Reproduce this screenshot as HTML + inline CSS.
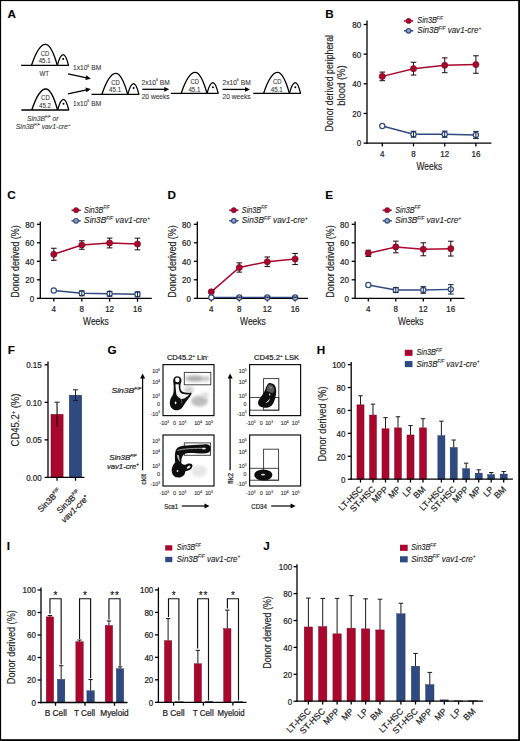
<!DOCTYPE html>
<html><head><meta charset="utf-8"><style>
html,body{margin:0;padding:0;background:#fff;}
body{width:520px;height:741px;overflow:hidden;}
svg{display:block;font-family:"Liberation Sans",sans-serif;}
</style></head><body>
<svg width="520" height="741" viewBox="0 0 520 741" font-family="Liberation Sans, sans-serif">
<rect x="0" y="0" width="520" height="741" fill="#fff"/>
<defs><filter id="bl1" x="-50%" y="-50%" width="200%" height="200%"><feGaussianBlur stdDeviation="1.4"/></filter><filter id="bl2" x="-50%" y="-50%" width="200%" height="200%"><feGaussianBlur stdDeviation="0.45"/></filter></defs>
<text x="7.6" y="18" font-size="11.7" font-weight="bold" fill="#000" stroke="#000" stroke-width="0.1" >A</text>
<line x1="21.1" y1="65.3" x2="68.8" y2="65.3" stroke="#000" stroke-width="1.3" />
<path d="M31.5,65.3 Q38.5,44.3 45.5,44.3 Q51.4,44.3 57.3,65.3" stroke="#000" stroke-width="1.35" fill="none"/>
<path d="M57.3,65.3 Q60.25,54.6 63.2,54.6 Q65.85,54.6 68.5,65.3" stroke="#000" stroke-width="1.3" fill="none"/>
<circle cx="63.2" cy="59.1" r="1.0" fill="#000"/>
<text x="45.1" y="55.7" font-size="6.9" text-anchor="middle" fill="#333" stroke="#333" stroke-width="0.08" textLength="8.6" lengthAdjust="spacingAndGlyphs" >CD</text>
<text x="44.7" y="63.4" font-size="6.9" text-anchor="middle" fill="#333" stroke="#333" stroke-width="0.08" textLength="12" lengthAdjust="spacingAndGlyphs" >45.1</text>
<text x="44.3" y="75.5" font-size="6.9" text-anchor="middle" fill="#333" stroke="#333" stroke-width="0.08" textLength="9.6" lengthAdjust="spacingAndGlyphs" >WT</text>
<line x1="21.4" y1="110" x2="69.1" y2="110" stroke="#000" stroke-width="1.3" />
<path d="M31.8,110 Q38.8,89 45.8,89 Q51.7,89 57.6,110" stroke="#000" stroke-width="1.35" fill="none"/>
<path d="M57.6,110 Q60.55,99.3 63.5,99.3 Q66.15,99.3 68.8,110" stroke="#000" stroke-width="1.3" fill="none"/>
<circle cx="63.5" cy="103.8" r="1.0" fill="#000"/>
<text x="45.4" y="100.4" font-size="6.9" text-anchor="middle" fill="#333" stroke="#333" stroke-width="0.08" textLength="8.6" lengthAdjust="spacingAndGlyphs" >CD</text>
<text x="45" y="108.1" font-size="6.9" text-anchor="middle" fill="#333" stroke="#333" stroke-width="0.08" textLength="12" lengthAdjust="spacingAndGlyphs" >45.2</text>
<text x="27" y="120.8" font-size="6.9" font-style="italic" fill="#333" stroke="#333" stroke-width="0.08" textLength="31.5" lengthAdjust="spacingAndGlyphs" >Sin3B<tspan dy="-2.76" font-size="3.8">F/F</tspan><tspan dy="2.76" font-size="6.9"> or</tspan></text>
<text x="15.8" y="128.9" font-size="6.9" font-style="italic" fill="#333" stroke="#333" stroke-width="0.08" textLength="54.5" lengthAdjust="spacingAndGlyphs" >Sin3B<tspan dy="-2.76" font-size="3.8">F/F</tspan><tspan dy="2.76" font-size="6.9"> vav1-cre</tspan><tspan dy="-2.76" font-size="4.14">+</tspan></text>
<line x1="91.5" y1="94.3" x2="139.2" y2="94.3" stroke="#000" stroke-width="1.3" />
<path d="M101.9,94.3 Q108.9,73.3 115.9,73.3 Q121.8,73.3 127.7,94.3" stroke="#000" stroke-width="1.35" fill="none"/>
<path d="M127.7,94.3 Q130.65,83.6 133.6,83.6 Q136.25,83.6 138.9,94.3" stroke="#000" stroke-width="1.3" fill="none"/>
<circle cx="133.6" cy="88.1" r="1.0" fill="#000"/>
<text x="115.5" y="84.7" font-size="6.9" text-anchor="middle" fill="#333" stroke="#333" stroke-width="0.08" textLength="8.6" lengthAdjust="spacingAndGlyphs" >CD</text>
<text x="115.1" y="92.4" font-size="6.9" text-anchor="middle" fill="#333" stroke="#333" stroke-width="0.08" textLength="12" lengthAdjust="spacingAndGlyphs" >45.1</text>
<line x1="170.8" y1="93.4" x2="218.5" y2="93.4" stroke="#000" stroke-width="1.3" />
<path d="M181.2,93.4 Q188.2,72.4 195.2,72.4 Q201.1,72.4 207,93.4" stroke="#000" stroke-width="1.35" fill="none"/>
<path d="M207,93.4 Q209.95,82.7 212.9,82.7 Q215.55,82.7 218.2,93.4" stroke="#000" stroke-width="1.3" fill="none"/>
<circle cx="212.9" cy="87.2" r="1.0" fill="#000"/>
<text x="194.8" y="83.8" font-size="6.9" text-anchor="middle" fill="#333" stroke="#333" stroke-width="0.08" textLength="8.6" lengthAdjust="spacingAndGlyphs" >CD</text>
<text x="194.4" y="91.5" font-size="6.9" text-anchor="middle" fill="#333" stroke="#333" stroke-width="0.08" textLength="12" lengthAdjust="spacingAndGlyphs" >45.1</text>
<line x1="253.2" y1="93.4" x2="300.9" y2="93.4" stroke="#000" stroke-width="1.3" />
<path d="M263.6,93.4 Q270.6,72.4 277.6,72.4 Q283.5,72.4 289.4,93.4" stroke="#000" stroke-width="1.35" fill="none"/>
<path d="M289.4,93.4 Q292.35,82.7 295.3,82.7 Q297.95,82.7 300.6,93.4" stroke="#000" stroke-width="1.3" fill="none"/>
<circle cx="295.3" cy="87.2" r="1.0" fill="#000"/>
<text x="277.2" y="83.8" font-size="6.9" text-anchor="middle" fill="#333" stroke="#333" stroke-width="0.08" textLength="8.6" lengthAdjust="spacingAndGlyphs" >CD</text>
<text x="276.8" y="91.5" font-size="6.9" text-anchor="middle" fill="#333" stroke="#333" stroke-width="0.08" textLength="12" lengthAdjust="spacingAndGlyphs" >45.1</text>
<text x="73" y="70.3" font-size="6.9" fill="#333" stroke="#333" stroke-width="0.08" textLength="28.2" lengthAdjust="spacingAndGlyphs" >1x10<tspan dy="-3.8" font-size="3.8">6</tspan><tspan dy="3.8" font-size="6.9"> BM</tspan></text>
<text x="73" y="106.2" font-size="6.9" fill="#333" stroke="#333" stroke-width="0.08" textLength="28.2" lengthAdjust="spacingAndGlyphs" >1x10<tspan dy="-3.8" font-size="3.8">6</tspan><tspan dy="3.8" font-size="6.9"> BM</tspan></text>
<line x1="68" y1="73.8" x2="86.69" y2="77.82" stroke="#000" stroke-width="1.3" />
<polygon points="90.8,78.7 85.41,80 86.42,75.3" fill="#000"/>
<line x1="68" y1="93.8" x2="86.69" y2="89.78" stroke="#000" stroke-width="1.3" />
<polygon points="90.8,88.9 86.42,92.3 85.41,87.6" fill="#000"/>
<text x="141.6" y="85.1" font-size="6.9" fill="#333" stroke="#333" stroke-width="0.08" textLength="28.2" lengthAdjust="spacingAndGlyphs" >2x10<tspan dy="-3.8" font-size="3.8">6</tspan><tspan dy="3.8" font-size="6.9"> BM</tspan></text>
<line x1="142.3" y1="89.3" x2="165.1" y2="89.3" stroke="#000" stroke-width="1.3" />
<polygon points="169.3,89.3 164.3,91.7 164.3,86.9" fill="#000"/>
<text x="141.7" y="99" font-size="6.9" fill="#333" stroke="#333" stroke-width="0.08" textLength="28" lengthAdjust="spacingAndGlyphs" >20 weeks</text>
<text x="222.5" y="85.1" font-size="6.9" fill="#333" stroke="#333" stroke-width="0.08" textLength="28.2" lengthAdjust="spacingAndGlyphs" >2x10<tspan dy="-3.8" font-size="3.8">6</tspan><tspan dy="3.8" font-size="6.9"> BM</tspan></text>
<line x1="222.5" y1="89.4" x2="245.8" y2="89.4" stroke="#000" stroke-width="1.3" />
<polygon points="250,89.4 245,91.8 245,87" fill="#000"/>
<text x="222.6" y="99.2" font-size="6.9" fill="#333" stroke="#333" stroke-width="0.08" textLength="28" lengthAdjust="spacingAndGlyphs" >20 weeks</text>
<text x="325.2" y="17.8" font-size="11.7" font-weight="bold" fill="#000" stroke="#000" stroke-width="0.1" >B</text>
<line x1="367" y1="20.6" x2="367" y2="143.75" stroke="#000" stroke-width="1.3" />
<line x1="363.6" y1="143.1" x2="367" y2="143.1" stroke="#000" stroke-width="1.3" />
<text x="361.2" y="146.46" font-size="8.5" text-anchor="end" fill="#1e1e1e" stroke="#1e1e1e" stroke-width="0.22" textLength="4.45" lengthAdjust="spacingAndGlyphs" >0</text>
<line x1="363.6" y1="113.45" x2="367" y2="113.45" stroke="#000" stroke-width="1.3" />
<text x="361.2" y="116.81" font-size="8.5" text-anchor="end" fill="#1e1e1e" stroke="#1e1e1e" stroke-width="0.22" textLength="8.9" lengthAdjust="spacingAndGlyphs" >20</text>
<line x1="363.6" y1="83.8" x2="367" y2="83.8" stroke="#000" stroke-width="1.3" />
<text x="361.2" y="87.16" font-size="8.5" text-anchor="end" fill="#1e1e1e" stroke="#1e1e1e" stroke-width="0.22" textLength="8.9" lengthAdjust="spacingAndGlyphs" >40</text>
<line x1="363.6" y1="54.15" x2="367" y2="54.15" stroke="#000" stroke-width="1.3" />
<text x="361.2" y="57.51" font-size="8.5" text-anchor="end" fill="#1e1e1e" stroke="#1e1e1e" stroke-width="0.22" textLength="8.9" lengthAdjust="spacingAndGlyphs" >60</text>
<line x1="363.6" y1="24.5" x2="367" y2="24.5" stroke="#000" stroke-width="1.3" />
<text x="361.2" y="27.86" font-size="8.5" text-anchor="end" fill="#1e1e1e" stroke="#1e1e1e" stroke-width="0.22" textLength="8.9" lengthAdjust="spacingAndGlyphs" >80</text>
<line x1="366.35" y1="143.1" x2="491.4" y2="143.1" stroke="#000" stroke-width="1.3" />
<line x1="382.3" y1="143.1" x2="382.3" y2="146.4" stroke="#000" stroke-width="1.3" />
<line x1="413.5" y1="143.1" x2="413.5" y2="146.4" stroke="#000" stroke-width="1.3" />
<line x1="444.7" y1="143.1" x2="444.7" y2="146.4" stroke="#000" stroke-width="1.3" />
<line x1="475.9" y1="143.1" x2="475.9" y2="146.4" stroke="#000" stroke-width="1.3" />
<text x="382.3" y="156.7" font-size="8.5" text-anchor="middle" fill="#1e1e1e" stroke="#1e1e1e" stroke-width="0.22" textLength="4.45" lengthAdjust="spacingAndGlyphs" >4</text>
<text x="413.5" y="156.7" font-size="8.5" text-anchor="middle" fill="#1e1e1e" stroke="#1e1e1e" stroke-width="0.22" textLength="4.45" lengthAdjust="spacingAndGlyphs" >8</text>
<text x="444.7" y="156.7" font-size="8.5" text-anchor="middle" fill="#1e1e1e" stroke="#1e1e1e" stroke-width="0.22" textLength="8.9" lengthAdjust="spacingAndGlyphs" >12</text>
<text x="475.9" y="156.7" font-size="8.5" text-anchor="middle" fill="#1e1e1e" stroke="#1e1e1e" stroke-width="0.22" textLength="8.9" lengthAdjust="spacingAndGlyphs" >16</text>
<polyline points="382.3,76.39 413.5,68.68 444.7,65.27 475.9,64.53" fill="none" stroke="#a9072e" stroke-width="1.5"/>
<line x1="382.3" y1="72.09" x2="382.3" y2="80.69" stroke="#2a1016" stroke-width="1.05" />
<line x1="379.5" y1="72.09" x2="385.1" y2="72.09" stroke="#2a1016" stroke-width="1.05" />
<line x1="379.5" y1="80.69" x2="385.1" y2="80.69" stroke="#2a1016" stroke-width="1.05" />
<circle cx="382.3" cy="76.39" r="3.1" fill="#a9072e" stroke="#6e0a1e" stroke-width="0.6"/>
<line x1="413.5" y1="62.3" x2="413.5" y2="75.05" stroke="#2a1016" stroke-width="1.05" />
<line x1="410.7" y1="62.3" x2="416.3" y2="62.3" stroke="#2a1016" stroke-width="1.05" />
<line x1="410.7" y1="75.05" x2="416.3" y2="75.05" stroke="#2a1016" stroke-width="1.05" />
<circle cx="413.5" cy="68.68" r="3.1" fill="#a9072e" stroke="#6e0a1e" stroke-width="0.6"/>
<line x1="444.7" y1="57.86" x2="444.7" y2="72.68" stroke="#2a1016" stroke-width="1.05" />
<line x1="441.9" y1="57.86" x2="447.5" y2="57.86" stroke="#2a1016" stroke-width="1.05" />
<line x1="441.9" y1="72.68" x2="447.5" y2="72.68" stroke="#2a1016" stroke-width="1.05" />
<circle cx="444.7" cy="65.27" r="3.1" fill="#a9072e" stroke="#6e0a1e" stroke-width="0.6"/>
<line x1="475.9" y1="55.78" x2="475.9" y2="73.27" stroke="#2a1016" stroke-width="1.05" />
<line x1="473.1" y1="55.78" x2="478.7" y2="55.78" stroke="#2a1016" stroke-width="1.05" />
<line x1="473.1" y1="73.27" x2="478.7" y2="73.27" stroke="#2a1016" stroke-width="1.05" />
<circle cx="475.9" cy="64.53" r="3.1" fill="#a9072e" stroke="#6e0a1e" stroke-width="0.6"/>
<polyline points="382.3,126.05 413.5,134.2 444.7,134.2 475.9,134.95" fill="none" stroke="#2f4a80" stroke-width="1.4"/>
<circle cx="382.3" cy="126.05" r="2.6" fill="#fff" stroke="#2f4a80" stroke-width="1.2"/>
<circle cx="413.5" cy="134.2" r="2.6" fill="#fff" stroke="#2f4a80" stroke-width="1.2"/>
<line x1="413.5" y1="131.24" x2="413.5" y2="137.17" stroke="#1c2e52" stroke-width="1.05" />
<line x1="410.7" y1="131.24" x2="416.3" y2="131.24" stroke="#1c2e52" stroke-width="1.05" />
<line x1="410.7" y1="137.17" x2="416.3" y2="137.17" stroke="#1c2e52" stroke-width="1.05" />
<circle cx="444.7" cy="134.2" r="2.6" fill="#fff" stroke="#2f4a80" stroke-width="1.2"/>
<line x1="444.7" y1="131.09" x2="444.7" y2="137.32" stroke="#1c2e52" stroke-width="1.05" />
<line x1="441.9" y1="131.09" x2="447.5" y2="131.09" stroke="#1c2e52" stroke-width="1.05" />
<line x1="441.9" y1="137.32" x2="447.5" y2="137.32" stroke="#1c2e52" stroke-width="1.05" />
<circle cx="475.9" cy="134.95" r="2.6" fill="#fff" stroke="#2f4a80" stroke-width="1.2"/>
<line x1="475.9" y1="131.39" x2="475.9" y2="138.5" stroke="#1c2e52" stroke-width="1.05" />
<line x1="473.1" y1="131.39" x2="478.7" y2="131.39" stroke="#1c2e52" stroke-width="1.05" />
<line x1="473.1" y1="138.5" x2="478.7" y2="138.5" stroke="#1c2e52" stroke-width="1.05" />
<text x="429.3" y="170.4" font-size="10.2" text-anchor="middle" fill="#1e1e1e" stroke="#1e1e1e" stroke-width="0.16" textLength="25.6" lengthAdjust="spacingAndGlyphs" >Weeks</text>
<text transform="translate(332.6,83.2) rotate(-90)" x="0" y="0" font-size="10.2" text-anchor="middle" fill="#1e1e1e" stroke="#1e1e1e" stroke-width="0.16" textLength="96.5" lengthAdjust="spacingAndGlyphs">Donor derived peripheral</text>
<text transform="translate(344.6,85.6) rotate(-90)" x="0" y="0" font-size="10.2" text-anchor="middle" fill="#1e1e1e" stroke="#1e1e1e" stroke-width="0.16" textLength="40.5" lengthAdjust="spacingAndGlyphs">blood (%)</text>
<line x1="404" y1="20.9" x2="413.2" y2="20.9" stroke="#a9072e" stroke-width="1.5" />
<circle cx="408.6" cy="20.9" r="2.6" fill="#a9072e" stroke="#6e0a1e" stroke-width="0.5"/>
<line x1="404" y1="30.8" x2="413.2" y2="30.8" stroke="#2f4a80" stroke-width="1.5" />
<circle cx="408.6" cy="30.8" r="2.3" fill="#8aa0c0" stroke="#2f4a80" stroke-width="1.1"/>
<text x="417.3" y="23.3" font-size="8.6" font-style="italic" fill="#1e1e1e" stroke="#1e1e1e" stroke-width="0.12" textLength="25.6" lengthAdjust="spacingAndGlyphs" >Sin3B<tspan dy="-3.44" font-size="4.73">F/F</tspan></text>
<text x="417.3" y="33.2" font-size="8.6" font-style="italic" fill="#1e1e1e" stroke="#1e1e1e" stroke-width="0.12" textLength="64" lengthAdjust="spacingAndGlyphs" >Sin3B<tspan dy="-3.44" font-size="4.73">F/F</tspan><tspan dy="3.44" font-size="8.6"> vav1-cre</tspan><tspan dy="-3.44" font-size="5.16">+</tspan></text>
<text x="7.3" y="198.5" font-size="11.7" font-weight="bold" fill="#000" stroke="#000" stroke-width="0.1" >C</text>
<line x1="40.3" y1="221.4" x2="40.3" y2="298.95" stroke="#000" stroke-width="1.3" />
<line x1="36.9" y1="298.3" x2="40.3" y2="298.3" stroke="#000" stroke-width="1.3" />
<text x="34.2" y="301.66" font-size="8.5" text-anchor="end" fill="#1e1e1e" stroke="#1e1e1e" stroke-width="0.22" textLength="4.45" lengthAdjust="spacingAndGlyphs" >0</text>
<line x1="36.9" y1="279.8" x2="40.3" y2="279.8" stroke="#000" stroke-width="1.3" />
<text x="34.2" y="283.16" font-size="8.5" text-anchor="end" fill="#1e1e1e" stroke="#1e1e1e" stroke-width="0.22" textLength="8.9" lengthAdjust="spacingAndGlyphs" >20</text>
<line x1="36.9" y1="261.3" x2="40.3" y2="261.3" stroke="#000" stroke-width="1.3" />
<text x="34.2" y="264.66" font-size="8.5" text-anchor="end" fill="#1e1e1e" stroke="#1e1e1e" stroke-width="0.22" textLength="8.9" lengthAdjust="spacingAndGlyphs" >40</text>
<line x1="36.9" y1="242.8" x2="40.3" y2="242.8" stroke="#000" stroke-width="1.3" />
<text x="34.2" y="246.16" font-size="8.5" text-anchor="end" fill="#1e1e1e" stroke="#1e1e1e" stroke-width="0.22" textLength="8.9" lengthAdjust="spacingAndGlyphs" >60</text>
<line x1="36.9" y1="224.3" x2="40.3" y2="224.3" stroke="#000" stroke-width="1.3" />
<text x="34.2" y="227.66" font-size="8.5" text-anchor="end" fill="#1e1e1e" stroke="#1e1e1e" stroke-width="0.22" textLength="8.9" lengthAdjust="spacingAndGlyphs" >80</text>
<line x1="39.65" y1="298.3" x2="151.8" y2="298.3" stroke="#000" stroke-width="1.3" />
<line x1="53.8" y1="298.3" x2="53.8" y2="301.6" stroke="#000" stroke-width="1.3" />
<line x1="81.8" y1="298.3" x2="81.8" y2="301.6" stroke="#000" stroke-width="1.3" />
<line x1="109.6" y1="298.3" x2="109.6" y2="301.6" stroke="#000" stroke-width="1.3" />
<line x1="137.5" y1="298.3" x2="137.5" y2="301.6" stroke="#000" stroke-width="1.3" />
<text x="53.8" y="312.4" font-size="8.5" text-anchor="middle" fill="#1e1e1e" stroke="#1e1e1e" stroke-width="0.22" textLength="4.45" lengthAdjust="spacingAndGlyphs" >4</text>
<text x="81.8" y="312.4" font-size="8.5" text-anchor="middle" fill="#1e1e1e" stroke="#1e1e1e" stroke-width="0.22" textLength="4.45" lengthAdjust="spacingAndGlyphs" >8</text>
<text x="109.6" y="312.4" font-size="8.5" text-anchor="middle" fill="#1e1e1e" stroke="#1e1e1e" stroke-width="0.22" textLength="8.9" lengthAdjust="spacingAndGlyphs" >12</text>
<text x="137.5" y="312.4" font-size="8.5" text-anchor="middle" fill="#1e1e1e" stroke="#1e1e1e" stroke-width="0.22" textLength="8.9" lengthAdjust="spacingAndGlyphs" >16</text>
<polyline points="53.8,254.27 81.8,245.02 109.6,242.99 137.5,244" fill="none" stroke="#a9072e" stroke-width="1.5"/>
<line x1="53.8" y1="248.26" x2="53.8" y2="260.28" stroke="#2a1016" stroke-width="1.05" />
<line x1="51" y1="248.26" x2="56.6" y2="248.26" stroke="#2a1016" stroke-width="1.05" />
<line x1="51" y1="260.28" x2="56.6" y2="260.28" stroke="#2a1016" stroke-width="1.05" />
<circle cx="53.8" cy="254.27" r="3.1" fill="#a9072e" stroke="#6e0a1e" stroke-width="0.6"/>
<line x1="81.8" y1="240.77" x2="81.8" y2="249.28" stroke="#2a1016" stroke-width="1.05" />
<line x1="79" y1="240.77" x2="84.6" y2="240.77" stroke="#2a1016" stroke-width="1.05" />
<line x1="79" y1="249.28" x2="84.6" y2="249.28" stroke="#2a1016" stroke-width="1.05" />
<circle cx="81.8" cy="245.02" r="3.1" fill="#a9072e" stroke="#6e0a1e" stroke-width="0.6"/>
<line x1="109.6" y1="238.08" x2="109.6" y2="247.89" stroke="#2a1016" stroke-width="1.05" />
<line x1="106.8" y1="238.08" x2="112.4" y2="238.08" stroke="#2a1016" stroke-width="1.05" />
<line x1="106.8" y1="247.89" x2="112.4" y2="247.89" stroke="#2a1016" stroke-width="1.05" />
<circle cx="109.6" cy="242.99" r="3.1" fill="#a9072e" stroke="#6e0a1e" stroke-width="0.6"/>
<line x1="137.5" y1="238.18" x2="137.5" y2="249.83" stroke="#2a1016" stroke-width="1.05" />
<line x1="134.7" y1="238.18" x2="140.3" y2="238.18" stroke="#2a1016" stroke-width="1.05" />
<line x1="134.7" y1="249.83" x2="140.3" y2="249.83" stroke="#2a1016" stroke-width="1.05" />
<circle cx="137.5" cy="244" r="3.1" fill="#a9072e" stroke="#6e0a1e" stroke-width="0.6"/>
<polyline points="53.8,290.53 81.8,293.31 109.6,293.77 137.5,294.32" fill="none" stroke="#2f4a80" stroke-width="1.4"/>
<circle cx="53.8" cy="290.53" r="2.6" fill="#fff" stroke="#2f4a80" stroke-width="1.2"/>
<circle cx="81.8" cy="293.31" r="2.6" fill="#fff" stroke="#2f4a80" stroke-width="1.2"/>
<line x1="81.8" y1="290.9" x2="81.8" y2="295.71" stroke="#1c2e52" stroke-width="1.05" />
<line x1="79" y1="290.9" x2="84.6" y2="290.9" stroke="#1c2e52" stroke-width="1.05" />
<line x1="79" y1="295.71" x2="84.6" y2="295.71" stroke="#1c2e52" stroke-width="1.05" />
<circle cx="109.6" cy="293.77" r="2.6" fill="#fff" stroke="#2f4a80" stroke-width="1.2"/>
<line x1="109.6" y1="291.36" x2="109.6" y2="296.17" stroke="#1c2e52" stroke-width="1.05" />
<line x1="106.8" y1="291.36" x2="112.4" y2="291.36" stroke="#1c2e52" stroke-width="1.05" />
<line x1="106.8" y1="296.17" x2="112.4" y2="296.17" stroke="#1c2e52" stroke-width="1.05" />
<circle cx="137.5" cy="294.32" r="2.6" fill="#fff" stroke="#2f4a80" stroke-width="1.2"/>
<line x1="137.5" y1="291.92" x2="137.5" y2="296.73" stroke="#1c2e52" stroke-width="1.05" />
<line x1="134.7" y1="291.92" x2="140.3" y2="291.92" stroke="#1c2e52" stroke-width="1.05" />
<line x1="134.7" y1="296.73" x2="140.3" y2="296.73" stroke="#1c2e52" stroke-width="1.05" />
<text x="95.9" y="324.9" font-size="10.2" text-anchor="middle" fill="#1e1e1e" stroke="#1e1e1e" stroke-width="0.16" textLength="25.6" lengthAdjust="spacingAndGlyphs" >Weeks</text>
<text transform="translate(19.4,261.5) rotate(-90)" x="0" y="0" font-size="10.2" text-anchor="middle" fill="#1e1e1e" stroke="#1e1e1e" stroke-width="0.16" textLength="72.4" lengthAdjust="spacingAndGlyphs">Donor derived (%)</text>
<line x1="71.5" y1="210.2" x2="80.7" y2="210.2" stroke="#a9072e" stroke-width="1.5" />
<circle cx="76.1" cy="210.2" r="2.6" fill="#a9072e" stroke="#6e0a1e" stroke-width="0.5"/>
<line x1="71.5" y1="220.8" x2="80.7" y2="220.8" stroke="#2f4a80" stroke-width="1.5" />
<circle cx="76.1" cy="220.8" r="2.3" fill="#8aa0c0" stroke="#2f4a80" stroke-width="1.1"/>
<text x="84.1" y="212.6" font-size="8.6" font-style="italic" fill="#1e1e1e" stroke="#1e1e1e" stroke-width="0.12" textLength="25.3" lengthAdjust="spacingAndGlyphs" >Sin3B<tspan dy="-3.44" font-size="4.73">F/F</tspan></text>
<text x="84.1" y="223.2" font-size="8.6" font-style="italic" fill="#1e1e1e" stroke="#1e1e1e" stroke-width="0.12" textLength="66" lengthAdjust="spacingAndGlyphs" >Sin3B<tspan dy="-3.44" font-size="4.73">F/F</tspan><tspan dy="3.44" font-size="8.6"> vav1-cre</tspan><tspan dy="-3.44" font-size="5.16">+</tspan></text>
<text x="167.5" y="198.5" font-size="11.7" font-weight="bold" fill="#000" stroke="#000" stroke-width="0.1" >D</text>
<line x1="197.3" y1="221.4" x2="197.3" y2="298.95" stroke="#000" stroke-width="1.3" />
<line x1="193.9" y1="298.3" x2="197.3" y2="298.3" stroke="#000" stroke-width="1.3" />
<text x="190.9" y="301.66" font-size="8.5" text-anchor="end" fill="#1e1e1e" stroke="#1e1e1e" stroke-width="0.22" textLength="4.45" lengthAdjust="spacingAndGlyphs" >0</text>
<line x1="193.9" y1="279.8" x2="197.3" y2="279.8" stroke="#000" stroke-width="1.3" />
<text x="190.9" y="283.16" font-size="8.5" text-anchor="end" fill="#1e1e1e" stroke="#1e1e1e" stroke-width="0.22" textLength="8.9" lengthAdjust="spacingAndGlyphs" >20</text>
<line x1="193.9" y1="261.3" x2="197.3" y2="261.3" stroke="#000" stroke-width="1.3" />
<text x="190.9" y="264.66" font-size="8.5" text-anchor="end" fill="#1e1e1e" stroke="#1e1e1e" stroke-width="0.22" textLength="8.9" lengthAdjust="spacingAndGlyphs" >40</text>
<line x1="193.9" y1="242.8" x2="197.3" y2="242.8" stroke="#000" stroke-width="1.3" />
<text x="190.9" y="246.16" font-size="8.5" text-anchor="end" fill="#1e1e1e" stroke="#1e1e1e" stroke-width="0.22" textLength="8.9" lengthAdjust="spacingAndGlyphs" >60</text>
<line x1="193.9" y1="224.3" x2="197.3" y2="224.3" stroke="#000" stroke-width="1.3" />
<text x="190.9" y="227.66" font-size="8.5" text-anchor="end" fill="#1e1e1e" stroke="#1e1e1e" stroke-width="0.22" textLength="8.9" lengthAdjust="spacingAndGlyphs" >80</text>
<line x1="196.65" y1="298.3" x2="308" y2="298.3" stroke="#000" stroke-width="1.3" />
<line x1="211.3" y1="298.3" x2="211.3" y2="301.6" stroke="#000" stroke-width="1.3" />
<line x1="239.3" y1="298.3" x2="239.3" y2="301.6" stroke="#000" stroke-width="1.3" />
<line x1="267.3" y1="298.3" x2="267.3" y2="301.6" stroke="#000" stroke-width="1.3" />
<line x1="295.1" y1="298.3" x2="295.1" y2="301.6" stroke="#000" stroke-width="1.3" />
<text x="211.3" y="312.4" font-size="8.5" text-anchor="middle" fill="#1e1e1e" stroke="#1e1e1e" stroke-width="0.22" textLength="4.45" lengthAdjust="spacingAndGlyphs" >4</text>
<text x="239.3" y="312.4" font-size="8.5" text-anchor="middle" fill="#1e1e1e" stroke="#1e1e1e" stroke-width="0.22" textLength="4.45" lengthAdjust="spacingAndGlyphs" >8</text>
<text x="267.3" y="312.4" font-size="8.5" text-anchor="middle" fill="#1e1e1e" stroke="#1e1e1e" stroke-width="0.22" textLength="8.9" lengthAdjust="spacingAndGlyphs" >12</text>
<text x="295.1" y="312.4" font-size="8.5" text-anchor="middle" fill="#1e1e1e" stroke="#1e1e1e" stroke-width="0.22" textLength="8.9" lengthAdjust="spacingAndGlyphs" >16</text>
<polyline points="211.3,291.82 239.3,267.5 267.3,261.76 295.1,258.99" fill="none" stroke="#a9072e" stroke-width="1.5"/>
<line x1="211.3" y1="290.9" x2="211.3" y2="292.75" stroke="#2a1016" stroke-width="1.05" />
<line x1="208.5" y1="290.9" x2="214.1" y2="290.9" stroke="#2a1016" stroke-width="1.05" />
<line x1="208.5" y1="292.75" x2="214.1" y2="292.75" stroke="#2a1016" stroke-width="1.05" />
<circle cx="211.3" cy="291.82" r="3.1" fill="#a9072e" stroke="#6e0a1e" stroke-width="0.6"/>
<line x1="239.3" y1="262.87" x2="239.3" y2="272.12" stroke="#2a1016" stroke-width="1.05" />
<line x1="236.5" y1="262.87" x2="242.1" y2="262.87" stroke="#2a1016" stroke-width="1.05" />
<line x1="236.5" y1="272.12" x2="242.1" y2="272.12" stroke="#2a1016" stroke-width="1.05" />
<circle cx="239.3" cy="267.5" r="3.1" fill="#a9072e" stroke="#6e0a1e" stroke-width="0.6"/>
<line x1="267.3" y1="256.95" x2="267.3" y2="266.57" stroke="#2a1016" stroke-width="1.05" />
<line x1="264.5" y1="256.95" x2="270.1" y2="256.95" stroke="#2a1016" stroke-width="1.05" />
<line x1="264.5" y1="266.57" x2="270.1" y2="266.57" stroke="#2a1016" stroke-width="1.05" />
<circle cx="267.3" cy="261.76" r="3.1" fill="#a9072e" stroke="#6e0a1e" stroke-width="0.6"/>
<line x1="295.1" y1="253.44" x2="295.1" y2="264.54" stroke="#2a1016" stroke-width="1.05" />
<line x1="292.3" y1="253.44" x2="297.9" y2="253.44" stroke="#2a1016" stroke-width="1.05" />
<line x1="292.3" y1="264.54" x2="297.9" y2="264.54" stroke="#2a1016" stroke-width="1.05" />
<circle cx="295.1" cy="258.99" r="3.1" fill="#a9072e" stroke="#6e0a1e" stroke-width="0.6"/>
<polyline points="211.3,297.38 239.3,297.38 267.3,297.38 295.1,297.38" fill="none" stroke="#2f4a80" stroke-width="1.4"/>
<circle cx="211.3" cy="297.38" r="2.6" fill="#fff" stroke="#2f4a80" stroke-width="1.2"/>
<circle cx="239.3" cy="297.38" r="2.6" fill="#fff" stroke="#2f4a80" stroke-width="1.2"/>
<line x1="239.3" y1="296.91" x2="239.3" y2="297.84" stroke="#1c2e52" stroke-width="1.05" />
<line x1="236.5" y1="296.91" x2="242.1" y2="296.91" stroke="#1c2e52" stroke-width="1.05" />
<line x1="236.5" y1="297.84" x2="242.1" y2="297.84" stroke="#1c2e52" stroke-width="1.05" />
<circle cx="267.3" cy="297.38" r="2.6" fill="#fff" stroke="#2f4a80" stroke-width="1.2"/>
<line x1="267.3" y1="296.91" x2="267.3" y2="297.84" stroke="#1c2e52" stroke-width="1.05" />
<line x1="264.5" y1="296.91" x2="270.1" y2="296.91" stroke="#1c2e52" stroke-width="1.05" />
<line x1="264.5" y1="297.84" x2="270.1" y2="297.84" stroke="#1c2e52" stroke-width="1.05" />
<circle cx="295.1" cy="297.38" r="2.6" fill="#fff" stroke="#2f4a80" stroke-width="1.2"/>
<line x1="295.1" y1="296.91" x2="295.1" y2="297.84" stroke="#1c2e52" stroke-width="1.05" />
<line x1="292.3" y1="296.91" x2="297.9" y2="296.91" stroke="#1c2e52" stroke-width="1.05" />
<line x1="292.3" y1="297.84" x2="297.9" y2="297.84" stroke="#1c2e52" stroke-width="1.05" />
<text x="252.9" y="324.9" font-size="10.2" text-anchor="middle" fill="#1e1e1e" stroke="#1e1e1e" stroke-width="0.16" textLength="25.6" lengthAdjust="spacingAndGlyphs" >Weeks</text>
<text transform="translate(176.4,261.5) rotate(-90)" x="0" y="0" font-size="10.2" text-anchor="middle" fill="#1e1e1e" stroke="#1e1e1e" stroke-width="0.16" textLength="72.4" lengthAdjust="spacingAndGlyphs">Donor derived (%)</text>
<line x1="229.2" y1="210.2" x2="238.4" y2="210.2" stroke="#a9072e" stroke-width="1.5" />
<circle cx="233.8" cy="210.2" r="2.6" fill="#a9072e" stroke="#6e0a1e" stroke-width="0.5"/>
<line x1="229.2" y1="220.8" x2="238.4" y2="220.8" stroke="#2f4a80" stroke-width="1.5" />
<circle cx="233.8" cy="220.8" r="2.3" fill="#8aa0c0" stroke="#2f4a80" stroke-width="1.1"/>
<text x="241.8" y="212.6" font-size="8.6" font-style="italic" fill="#1e1e1e" stroke="#1e1e1e" stroke-width="0.12" textLength="25.3" lengthAdjust="spacingAndGlyphs" >Sin3B<tspan dy="-3.44" font-size="4.73">F/F</tspan></text>
<text x="241.8" y="223.2" font-size="8.6" font-style="italic" fill="#1e1e1e" stroke="#1e1e1e" stroke-width="0.12" textLength="66" lengthAdjust="spacingAndGlyphs" >Sin3B<tspan dy="-3.44" font-size="4.73">F/F</tspan><tspan dy="3.44" font-size="8.6"> vav1-cre</tspan><tspan dy="-3.44" font-size="5.16">+</tspan></text>
<text x="325.2" y="198.5" font-size="11.7" font-weight="bold" fill="#000" stroke="#000" stroke-width="0.1" >E</text>
<line x1="355.1" y1="221.4" x2="355.1" y2="298.95" stroke="#000" stroke-width="1.3" />
<line x1="351.7" y1="298.3" x2="355.1" y2="298.3" stroke="#000" stroke-width="1.3" />
<text x="348.9" y="301.66" font-size="8.5" text-anchor="end" fill="#1e1e1e" stroke="#1e1e1e" stroke-width="0.22" textLength="4.45" lengthAdjust="spacingAndGlyphs" >0</text>
<line x1="351.7" y1="279.8" x2="355.1" y2="279.8" stroke="#000" stroke-width="1.3" />
<text x="348.9" y="283.16" font-size="8.5" text-anchor="end" fill="#1e1e1e" stroke="#1e1e1e" stroke-width="0.22" textLength="8.9" lengthAdjust="spacingAndGlyphs" >20</text>
<line x1="351.7" y1="261.3" x2="355.1" y2="261.3" stroke="#000" stroke-width="1.3" />
<text x="348.9" y="264.66" font-size="8.5" text-anchor="end" fill="#1e1e1e" stroke="#1e1e1e" stroke-width="0.22" textLength="8.9" lengthAdjust="spacingAndGlyphs" >40</text>
<line x1="351.7" y1="242.8" x2="355.1" y2="242.8" stroke="#000" stroke-width="1.3" />
<text x="348.9" y="246.16" font-size="8.5" text-anchor="end" fill="#1e1e1e" stroke="#1e1e1e" stroke-width="0.22" textLength="8.9" lengthAdjust="spacingAndGlyphs" >60</text>
<line x1="351.7" y1="224.3" x2="355.1" y2="224.3" stroke="#000" stroke-width="1.3" />
<text x="348.9" y="227.66" font-size="8.5" text-anchor="end" fill="#1e1e1e" stroke="#1e1e1e" stroke-width="0.22" textLength="8.9" lengthAdjust="spacingAndGlyphs" >80</text>
<line x1="354.45" y1="298.3" x2="464.5" y2="298.3" stroke="#000" stroke-width="1.3" />
<line x1="368.3" y1="298.3" x2="368.3" y2="301.6" stroke="#000" stroke-width="1.3" />
<line x1="395.8" y1="298.3" x2="395.8" y2="301.6" stroke="#000" stroke-width="1.3" />
<line x1="423.3" y1="298.3" x2="423.3" y2="301.6" stroke="#000" stroke-width="1.3" />
<line x1="450.8" y1="298.3" x2="450.8" y2="301.6" stroke="#000" stroke-width="1.3" />
<text x="368.3" y="312.4" font-size="8.5" text-anchor="middle" fill="#1e1e1e" stroke="#1e1e1e" stroke-width="0.22" textLength="4.45" lengthAdjust="spacingAndGlyphs" >4</text>
<text x="395.8" y="312.4" font-size="8.5" text-anchor="middle" fill="#1e1e1e" stroke="#1e1e1e" stroke-width="0.22" textLength="4.45" lengthAdjust="spacingAndGlyphs" >8</text>
<text x="423.3" y="312.4" font-size="8.5" text-anchor="middle" fill="#1e1e1e" stroke="#1e1e1e" stroke-width="0.22" textLength="8.9" lengthAdjust="spacingAndGlyphs" >12</text>
<text x="450.8" y="312.4" font-size="8.5" text-anchor="middle" fill="#1e1e1e" stroke="#1e1e1e" stroke-width="0.22" textLength="8.9" lengthAdjust="spacingAndGlyphs" >16</text>
<polyline points="368.3,253.34 395.8,246.96 423.3,249.28 450.8,248.63" fill="none" stroke="#a9072e" stroke-width="1.5"/>
<line x1="368.3" y1="250.2" x2="368.3" y2="256.49" stroke="#2a1016" stroke-width="1.05" />
<line x1="365.5" y1="250.2" x2="371.1" y2="250.2" stroke="#2a1016" stroke-width="1.05" />
<line x1="365.5" y1="256.49" x2="371.1" y2="256.49" stroke="#2a1016" stroke-width="1.05" />
<circle cx="368.3" cy="253.34" r="3.1" fill="#a9072e" stroke="#6e0a1e" stroke-width="0.6"/>
<line x1="395.8" y1="241.14" x2="395.8" y2="252.79" stroke="#2a1016" stroke-width="1.05" />
<line x1="393" y1="241.14" x2="398.6" y2="241.14" stroke="#2a1016" stroke-width="1.05" />
<line x1="393" y1="252.79" x2="398.6" y2="252.79" stroke="#2a1016" stroke-width="1.05" />
<circle cx="395.8" cy="246.96" r="3.1" fill="#a9072e" stroke="#6e0a1e" stroke-width="0.6"/>
<line x1="423.3" y1="242.8" x2="423.3" y2="255.75" stroke="#2a1016" stroke-width="1.05" />
<line x1="420.5" y1="242.8" x2="426.1" y2="242.8" stroke="#2a1016" stroke-width="1.05" />
<line x1="420.5" y1="255.75" x2="426.1" y2="255.75" stroke="#2a1016" stroke-width="1.05" />
<circle cx="423.3" cy="249.28" r="3.1" fill="#a9072e" stroke="#6e0a1e" stroke-width="0.6"/>
<line x1="450.8" y1="241.23" x2="450.8" y2="256.03" stroke="#2a1016" stroke-width="1.05" />
<line x1="448" y1="241.23" x2="453.6" y2="241.23" stroke="#2a1016" stroke-width="1.05" />
<line x1="448" y1="256.03" x2="453.6" y2="256.03" stroke="#2a1016" stroke-width="1.05" />
<circle cx="450.8" cy="248.63" r="3.1" fill="#a9072e" stroke="#6e0a1e" stroke-width="0.6"/>
<polyline points="368.3,284.98 395.8,289.98 423.3,289.98 450.8,289.33" fill="none" stroke="#2f4a80" stroke-width="1.4"/>
<circle cx="368.3" cy="284.98" r="2.6" fill="#fff" stroke="#2f4a80" stroke-width="1.2"/>
<circle cx="395.8" cy="289.98" r="2.6" fill="#fff" stroke="#2f4a80" stroke-width="1.2"/>
<line x1="395.8" y1="287.48" x2="395.8" y2="292.47" stroke="#1c2e52" stroke-width="1.05" />
<line x1="393" y1="287.48" x2="398.6" y2="287.48" stroke="#1c2e52" stroke-width="1.05" />
<line x1="393" y1="292.47" x2="398.6" y2="292.47" stroke="#1c2e52" stroke-width="1.05" />
<circle cx="423.3" cy="289.98" r="2.6" fill="#fff" stroke="#2f4a80" stroke-width="1.2"/>
<line x1="423.3" y1="286.65" x2="423.3" y2="293.31" stroke="#1c2e52" stroke-width="1.05" />
<line x1="420.5" y1="286.65" x2="426.1" y2="286.65" stroke="#1c2e52" stroke-width="1.05" />
<line x1="420.5" y1="293.31" x2="426.1" y2="293.31" stroke="#1c2e52" stroke-width="1.05" />
<circle cx="450.8" cy="289.33" r="2.6" fill="#fff" stroke="#2f4a80" stroke-width="1.2"/>
<line x1="450.8" y1="284.61" x2="450.8" y2="294.05" stroke="#1c2e52" stroke-width="1.05" />
<line x1="448" y1="284.61" x2="453.6" y2="284.61" stroke="#1c2e52" stroke-width="1.05" />
<line x1="448" y1="294.05" x2="453.6" y2="294.05" stroke="#1c2e52" stroke-width="1.05" />
<text x="410.7" y="324.9" font-size="10.2" text-anchor="middle" fill="#1e1e1e" stroke="#1e1e1e" stroke-width="0.16" textLength="25.6" lengthAdjust="spacingAndGlyphs" >Weeks</text>
<text transform="translate(334.2,261.5) rotate(-90)" x="0" y="0" font-size="10.2" text-anchor="middle" fill="#1e1e1e" stroke="#1e1e1e" stroke-width="0.16" textLength="72.4" lengthAdjust="spacingAndGlyphs">Donor derived (%)</text>
<line x1="382.6" y1="210.2" x2="391.8" y2="210.2" stroke="#a9072e" stroke-width="1.5" />
<circle cx="387.2" cy="210.2" r="2.6" fill="#a9072e" stroke="#6e0a1e" stroke-width="0.5"/>
<line x1="382.6" y1="220.8" x2="391.8" y2="220.8" stroke="#2f4a80" stroke-width="1.5" />
<circle cx="387.2" cy="220.8" r="2.3" fill="#8aa0c0" stroke="#2f4a80" stroke-width="1.1"/>
<text x="395.2" y="212.6" font-size="8.6" font-style="italic" fill="#1e1e1e" stroke="#1e1e1e" stroke-width="0.12" textLength="25.3" lengthAdjust="spacingAndGlyphs" >Sin3B<tspan dy="-3.44" font-size="4.73">F/F</tspan></text>
<text x="395.2" y="223.2" font-size="8.6" font-style="italic" fill="#1e1e1e" stroke="#1e1e1e" stroke-width="0.12" textLength="66" lengthAdjust="spacingAndGlyphs" >Sin3B<tspan dy="-3.44" font-size="4.73">F/F</tspan><tspan dy="3.44" font-size="8.6"> vav1-cre</tspan><tspan dy="-3.44" font-size="5.16">+</tspan></text>
<text x="7.8" y="354" font-size="11.7" font-weight="bold" fill="#000" stroke="#000" stroke-width="0.1" >F</text>
<line x1="48" y1="361.6" x2="48" y2="478.05" stroke="#000" stroke-width="1.3" />
<line x1="44.6" y1="477.4" x2="48" y2="477.4" stroke="#000" stroke-width="1.3" />
<text x="41.7" y="480.76" font-size="8.5" text-anchor="end" fill="#1e1e1e" stroke="#1e1e1e" stroke-width="0.22" textLength="15.57" lengthAdjust="spacingAndGlyphs" >0.00</text>
<line x1="44.6" y1="439.87" x2="48" y2="439.87" stroke="#000" stroke-width="1.3" />
<text x="41.7" y="443.23" font-size="8.5" text-anchor="end" fill="#1e1e1e" stroke="#1e1e1e" stroke-width="0.22" textLength="15.57" lengthAdjust="spacingAndGlyphs" >0.05</text>
<line x1="44.6" y1="402.34" x2="48" y2="402.34" stroke="#000" stroke-width="1.3" />
<text x="41.7" y="405.7" font-size="8.5" text-anchor="end" fill="#1e1e1e" stroke="#1e1e1e" stroke-width="0.22" textLength="15.57" lengthAdjust="spacingAndGlyphs" >0.10</text>
<line x1="44.6" y1="364.81" x2="48" y2="364.81" stroke="#000" stroke-width="1.3" />
<text x="41.7" y="368.17" font-size="8.5" text-anchor="end" fill="#1e1e1e" stroke="#1e1e1e" stroke-width="0.22" textLength="15.57" lengthAdjust="spacingAndGlyphs" >0.15</text>
<rect x="51" y="414.35" width="12.1" height="63.05" fill="#a9072e" stroke="#6e0a1e" stroke-width="0.5"/>
<rect x="69.3" y="395.21" width="12.4" height="82.19" fill="#2f4a80" stroke="#1c2e52" stroke-width="0.5"/>
<line x1="57.05" y1="402.19" x2="57.05" y2="426.73" stroke="#1a0808" stroke-width="1.1" />
<line x1="54.5" y1="402.19" x2="59.6" y2="402.19" stroke="#2a1a1a" stroke-width="1" />
<line x1="75.5" y1="389.8" x2="75.5" y2="400.61" stroke="#1a1a2a" stroke-width="1" />
<line x1="73" y1="389.8" x2="78" y2="389.8" stroke="#1a1a2a" stroke-width="1" />
<line x1="73" y1="400.61" x2="78" y2="400.61" stroke="#1a1a2a" stroke-width="1" />
<line x1="47.35" y1="477.4" x2="84.4" y2="477.4" stroke="#000" stroke-width="1.3" />
<line x1="57.05" y1="477.4" x2="57.05" y2="480.7" stroke="#000" stroke-width="1.3" />
<line x1="75.5" y1="477.4" x2="75.5" y2="480.7" stroke="#000" stroke-width="1.3" />
<text transform="translate(19.4,420) rotate(-90)" x="0" y="0" font-size="10.2" text-anchor="middle" fill="#1e1e1e" stroke="#1e1e1e" stroke-width="0.16" textLength="53" lengthAdjust="spacingAndGlyphs">CD45.2<tspan dy="-4.08" font-size="5.92">+</tspan><tspan dy="4.08" font-size="10.2"> (%)</tspan></text>
<text transform="translate(61.6,492) rotate(-45)" x="0" y="0" font-size="8.4" text-anchor="end" fill="#1e1e1e" stroke="#1e1e1e" stroke-width="0.22">Sin3B<tspan dy="-3.36" font-size="4.62">F/F</tspan></text>
<text transform="translate(80.8,493.3) rotate(-45)" x="0" y="0" font-size="8.4" text-anchor="end" fill="#1e1e1e" stroke="#1e1e1e" stroke-width="0.22">Sin3B<tspan dy="-3.36" font-size="4.62">F/F</tspan></text>
<text transform="translate(89.3,498.5) rotate(-45)" x="0" y="0" font-size="8.4" text-anchor="end" fill="#1e1e1e" stroke="#1e1e1e" stroke-width="0.22"><tspan font-style="italic">vav1-cre</tspan><tspan dy="-3.36" font-size="4.87">+</tspan></text>
<text x="316.8" y="353.8" font-size="11.7" font-weight="bold" fill="#000" stroke="#000" stroke-width="0.1" >H</text>
<line x1="351.2" y1="362" x2="351.2" y2="479.85" stroke="#000" stroke-width="1.3" />
<line x1="347.8" y1="479.2" x2="351.2" y2="479.2" stroke="#000" stroke-width="1.3" />
<text x="345.5" y="482.56" font-size="8.5" text-anchor="end" fill="#1e1e1e" stroke="#1e1e1e" stroke-width="0.22" textLength="4.45" lengthAdjust="spacingAndGlyphs" >0</text>
<line x1="347.8" y1="456.28" x2="351.2" y2="456.28" stroke="#000" stroke-width="1.3" />
<text x="345.5" y="459.64" font-size="8.5" text-anchor="end" fill="#1e1e1e" stroke="#1e1e1e" stroke-width="0.22" textLength="8.9" lengthAdjust="spacingAndGlyphs" >20</text>
<line x1="347.8" y1="433.36" x2="351.2" y2="433.36" stroke="#000" stroke-width="1.3" />
<text x="345.5" y="436.72" font-size="8.5" text-anchor="end" fill="#1e1e1e" stroke="#1e1e1e" stroke-width="0.22" textLength="8.9" lengthAdjust="spacingAndGlyphs" >40</text>
<line x1="347.8" y1="410.44" x2="351.2" y2="410.44" stroke="#000" stroke-width="1.3" />
<text x="345.5" y="413.8" font-size="8.5" text-anchor="end" fill="#1e1e1e" stroke="#1e1e1e" stroke-width="0.22" textLength="8.9" lengthAdjust="spacingAndGlyphs" >60</text>
<line x1="347.8" y1="387.52" x2="351.2" y2="387.52" stroke="#000" stroke-width="1.3" />
<text x="345.5" y="390.88" font-size="8.5" text-anchor="end" fill="#1e1e1e" stroke="#1e1e1e" stroke-width="0.22" textLength="8.9" lengthAdjust="spacingAndGlyphs" >80</text>
<line x1="347.8" y1="364.6" x2="351.2" y2="364.6" stroke="#000" stroke-width="1.3" />
<text x="345.5" y="367.96" font-size="8.5" text-anchor="end" fill="#1e1e1e" stroke="#1e1e1e" stroke-width="0.22" textLength="13.35" lengthAdjust="spacingAndGlyphs" >100</text>
<line x1="360.5" y1="395.77" x2="360.5" y2="404.82" stroke="#222" stroke-width="1.05" />
<line x1="358.3" y1="395.77" x2="362.7" y2="395.77" stroke="#222" stroke-width="1.05" />
<rect x="356.95" y="404.82" width="7.1" height="74.38" fill="#a9072e" stroke="#6e0a1e" stroke-width="0.4"/>
<line x1="373" y1="404.14" x2="373" y2="415.02" stroke="#222" stroke-width="1.05" />
<line x1="370.8" y1="404.14" x2="375.2" y2="404.14" stroke="#222" stroke-width="1.05" />
<rect x="369.45" y="415.02" width="7.1" height="64.18" fill="#a9072e" stroke="#6e0a1e" stroke-width="0.4"/>
<line x1="385.5" y1="417.66" x2="385.5" y2="428.78" stroke="#222" stroke-width="1.05" />
<line x1="383.3" y1="417.66" x2="387.7" y2="417.66" stroke="#222" stroke-width="1.05" />
<rect x="381.95" y="428.78" width="7.1" height="50.42" fill="#a9072e" stroke="#6e0a1e" stroke-width="0.4"/>
<line x1="398" y1="416.74" x2="398" y2="427.86" stroke="#222" stroke-width="1.05" />
<line x1="395.8" y1="416.74" x2="400.2" y2="416.74" stroke="#222" stroke-width="1.05" />
<rect x="394.45" y="427.86" width="7.1" height="51.34" fill="#a9072e" stroke="#6e0a1e" stroke-width="0.4"/>
<line x1="410.5" y1="425.57" x2="410.5" y2="434.96" stroke="#222" stroke-width="1.05" />
<line x1="408.3" y1="425.57" x2="412.7" y2="425.57" stroke="#222" stroke-width="1.05" />
<rect x="406.95" y="434.96" width="7.1" height="44.24" fill="#a9072e" stroke="#6e0a1e" stroke-width="0.4"/>
<line x1="423" y1="418.69" x2="423" y2="427.86" stroke="#222" stroke-width="1.05" />
<line x1="420.8" y1="418.69" x2="425.2" y2="418.69" stroke="#222" stroke-width="1.05" />
<rect x="419.45" y="427.86" width="7.1" height="51.34" fill="#a9072e" stroke="#6e0a1e" stroke-width="0.4"/>
<line x1="441.4" y1="421.21" x2="441.4" y2="435.65" stroke="#222" stroke-width="1.05" />
<line x1="439.2" y1="421.21" x2="443.6" y2="421.21" stroke="#222" stroke-width="1.05" />
<rect x="437.85" y="435.65" width="7.1" height="43.55" fill="#2f4a80" stroke="#1c2e52" stroke-width="0.4"/>
<line x1="453.7" y1="440.01" x2="453.7" y2="447.46" stroke="#222" stroke-width="1.05" />
<line x1="451.5" y1="440.01" x2="455.9" y2="440.01" stroke="#222" stroke-width="1.05" />
<rect x="450.15" y="447.46" width="7.1" height="31.74" fill="#2f4a80" stroke="#1c2e52" stroke-width="0.4"/>
<line x1="466.2" y1="463.16" x2="466.2" y2="468.66" stroke="#222" stroke-width="1.05" />
<line x1="464" y1="463.16" x2="468.4" y2="463.16" stroke="#222" stroke-width="1.05" />
<rect x="462.65" y="468.66" width="7.1" height="10.54" fill="#2f4a80" stroke="#1c2e52" stroke-width="0.4"/>
<line x1="478.7" y1="469.8" x2="478.7" y2="473.13" stroke="#222" stroke-width="1.05" />
<line x1="476.5" y1="469.8" x2="480.9" y2="469.8" stroke="#222" stroke-width="1.05" />
<rect x="475.15" y="473.13" width="7.1" height="6.07" fill="#2f4a80" stroke="#1c2e52" stroke-width="0.4"/>
<line x1="491.2" y1="472.55" x2="491.2" y2="474.62" stroke="#222" stroke-width="1.05" />
<line x1="489" y1="472.55" x2="493.4" y2="472.55" stroke="#222" stroke-width="1.05" />
<rect x="487.65" y="474.62" width="7.1" height="4.58" fill="#2f4a80" stroke="#1c2e52" stroke-width="0.4"/>
<line x1="503.7" y1="471.52" x2="503.7" y2="474.04" stroke="#222" stroke-width="1.05" />
<line x1="501.5" y1="471.52" x2="505.9" y2="471.52" stroke="#222" stroke-width="1.05" />
<rect x="500.15" y="474.04" width="7.1" height="5.16" fill="#2f4a80" stroke="#1c2e52" stroke-width="0.4"/>
<line x1="350.55" y1="479.2" x2="512.9" y2="479.2" stroke="#000" stroke-width="1.3" />
<line x1="360.5" y1="479.2" x2="360.5" y2="482.5" stroke="#000" stroke-width="1.3" />
<line x1="373" y1="479.2" x2="373" y2="482.5" stroke="#000" stroke-width="1.3" />
<line x1="385.5" y1="479.2" x2="385.5" y2="482.5" stroke="#000" stroke-width="1.3" />
<line x1="398" y1="479.2" x2="398" y2="482.5" stroke="#000" stroke-width="1.3" />
<line x1="410.5" y1="479.2" x2="410.5" y2="482.5" stroke="#000" stroke-width="1.3" />
<line x1="423" y1="479.2" x2="423" y2="482.5" stroke="#000" stroke-width="1.3" />
<line x1="441.4" y1="479.2" x2="441.4" y2="482.5" stroke="#000" stroke-width="1.3" />
<line x1="453.7" y1="479.2" x2="453.7" y2="482.5" stroke="#000" stroke-width="1.3" />
<line x1="466.2" y1="479.2" x2="466.2" y2="482.5" stroke="#000" stroke-width="1.3" />
<line x1="478.7" y1="479.2" x2="478.7" y2="482.5" stroke="#000" stroke-width="1.3" />
<line x1="491.2" y1="479.2" x2="491.2" y2="482.5" stroke="#000" stroke-width="1.3" />
<line x1="503.7" y1="479.2" x2="503.7" y2="482.5" stroke="#000" stroke-width="1.3" />
<text transform="translate(326.2,424) rotate(-90)" x="0" y="0" font-size="10.2" text-anchor="middle" fill="#1e1e1e" stroke="#1e1e1e" stroke-width="0.16" textLength="75" lengthAdjust="spacingAndGlyphs">Donor derived (%)</text>
<rect x="404.8" y="349.75" width="7.7" height="6.1" fill="#a9072e"/>
<rect x="404.8" y="361.05" width="7.7" height="6.1" fill="#2f4a80"/>
<text x="416.4" y="355.2" font-size="8.6" font-style="italic" fill="#1e1e1e" stroke="#1e1e1e" stroke-width="0.12" textLength="25.6" lengthAdjust="spacingAndGlyphs" >Sin3B<tspan dy="-3.44" font-size="4.73">F/F</tspan></text>
<text x="416.4" y="366.5" font-size="8.6" font-style="italic" fill="#1e1e1e" stroke="#1e1e1e" stroke-width="0.12" textLength="63.2" lengthAdjust="spacingAndGlyphs" >Sin3B<tspan dy="-3.44" font-size="4.73">F/F</tspan><tspan dy="3.44" font-size="8.6"> vav1-cre</tspan><tspan dy="-3.44" font-size="5.16">+</tspan></text>
<text transform="translate(363.5,489.9) rotate(-45)" x="0" y="0" font-size="8.7" text-anchor="end" fill="#1e1e1e" stroke="#1e1e1e" stroke-width="0.22">LT-HSC</text>
<text transform="translate(376,489.9) rotate(-45)" x="0" y="0" font-size="8.7" text-anchor="end" fill="#1e1e1e" stroke="#1e1e1e" stroke-width="0.22">ST-HSC</text>
<text transform="translate(388.5,489.9) rotate(-45)" x="0" y="0" font-size="8.7" text-anchor="end" fill="#1e1e1e" stroke="#1e1e1e" stroke-width="0.22">MPP</text>
<text transform="translate(401,489.9) rotate(-45)" x="0" y="0" font-size="8.7" text-anchor="end" fill="#1e1e1e" stroke="#1e1e1e" stroke-width="0.22">MP</text>
<text transform="translate(413.5,489.9) rotate(-45)" x="0" y="0" font-size="8.7" text-anchor="end" fill="#1e1e1e" stroke="#1e1e1e" stroke-width="0.22">LP</text>
<text transform="translate(426,489.9) rotate(-45)" x="0" y="0" font-size="8.7" text-anchor="end" fill="#1e1e1e" stroke="#1e1e1e" stroke-width="0.22">BM</text>
<text transform="translate(444.4,489.9) rotate(-45)" x="0" y="0" font-size="8.7" text-anchor="end" fill="#1e1e1e" stroke="#1e1e1e" stroke-width="0.22">LT-HSC</text>
<text transform="translate(456.7,489.9) rotate(-45)" x="0" y="0" font-size="8.7" text-anchor="end" fill="#1e1e1e" stroke="#1e1e1e" stroke-width="0.22">ST-HSC</text>
<text transform="translate(469.2,489.9) rotate(-45)" x="0" y="0" font-size="8.7" text-anchor="end" fill="#1e1e1e" stroke="#1e1e1e" stroke-width="0.22">MPP</text>
<text transform="translate(481.7,489.9) rotate(-45)" x="0" y="0" font-size="8.7" text-anchor="end" fill="#1e1e1e" stroke="#1e1e1e" stroke-width="0.22">MP</text>
<text transform="translate(494.2,489.9) rotate(-45)" x="0" y="0" font-size="8.7" text-anchor="end" fill="#1e1e1e" stroke="#1e1e1e" stroke-width="0.22">LP</text>
<text transform="translate(506.7,489.9) rotate(-45)" x="0" y="0" font-size="8.7" text-anchor="end" fill="#1e1e1e" stroke="#1e1e1e" stroke-width="0.22">BM</text>
<text x="107.4" y="354" font-size="11.7" font-weight="bold" fill="#000" stroke="#000" stroke-width="0.1" >G</text>
<text x="187.7" y="359.6" font-size="7.5" text-anchor="middle" fill="#1e1e1e" stroke="#1e1e1e" stroke-width="0.22" textLength="41.6" lengthAdjust="spacingAndGlyphs" >CD45.2<tspan dy="-3" font-size="4.35">+</tspan><tspan dy="3" font-size="7.5"> Lin</tspan><tspan dy="-3" font-size="4.35">-</tspan></text>
<text x="276.6" y="359.6" font-size="7.5" text-anchor="middle" fill="#1e1e1e" stroke="#1e1e1e" stroke-width="0.22" textLength="45" lengthAdjust="spacingAndGlyphs" >CD45.2<tspan dy="-3" font-size="4.35">+</tspan><tspan dy="3" font-size="7.5"> LSK</tspan></text>
<rect x="184.3" y="372.4" width="26.5" height="12.4" fill="none" stroke="#333" stroke-width="0.9"/>
<rect x="184.3" y="442.9" width="26.3" height="12.4" fill="none" stroke="#333" stroke-width="0.9"/>
<rect x="263.6" y="378.6" width="15.2" height="31.6" fill="none" stroke="#333" stroke-width="0.9"/>
<rect x="249.6" y="397.4" width="29.2" height="12.8" fill="none" stroke="#333" stroke-width="0.9"/>
<rect x="263.6" y="449.2" width="15" height="31" fill="none" stroke="#333" stroke-width="0.9"/>
<rect x="249.6" y="468.3" width="29" height="11.9" fill="none" stroke="#333" stroke-width="0.9"/>
<g filter="url(#bl1)" opacity="0.55"><ellipse cx="195" cy="378.6" rx="10" ry="3" fill="#6a6a6a"/><ellipse cx="206" cy="378.8" rx="4" ry="2.5" fill="#999"/><ellipse cx="199.5" cy="401" rx="8.5" ry="5.5" fill="#8a8a8a"/><ellipse cx="189" cy="390" rx="5" ry="4" fill="#b0b0b0"/><ellipse cx="205" cy="395" rx="4" ry="3" fill="#c8c8c8"/></g>
<g filter="url(#bl2)">
<path d="M177.3,376.2 C179.8,376.2 181.6,378 181.5,380.5 C181.4,382.2 180.6,383.2 180.5,384.5 C180.3,387 180.3,389 181.5,391 C184,392.8 188,393.2 191.8,392.8 C191.2,395.5 188.5,399 185.5,402.5 C183.5,406 181.5,409.5 178,410.2 C174,410.8 170.8,408.5 170,405 C169.3,401.5 170.5,397.8 172.5,395.5 C173.8,393 173.8,389 173.7,386 C173.6,384.5 173.2,382.5 173.2,380.5 C173.2,378 175,376.2 177.3,376.2 Z" fill="#111"/>
<ellipse cx="177.3" cy="379.9" rx="2.2" ry="2.3" fill="#fff"/>
<path d="M175.4,384.5 C175.8,387.5 175.8,391 176.2,394 C177,396 178.5,397.5 180.5,398.8 C182.5,399.5 184.5,398.5 186.5,397 C188,395.8 189,394.8 189.5,394.2 C186.5,394.7 183,394.4 180.8,393 C179.2,391.5 178.6,388.5 178.8,384.5 C177.8,384 176.4,384 175.4,384.5 Z" fill="#f2f2f2"/>
<path d="M178.5,396 C180.5,397.8 182,400.5 181.8,403.5" stroke="#999" stroke-width="0.5" fill="none"/>
<ellipse cx="175.6" cy="402.8" rx="0.8" ry="1.4" fill="#fff"/>
</g>
<g filter="url(#bl1)" opacity="0.35"><ellipse cx="199" cy="471" rx="8" ry="6" fill="#bbb"/></g>
<g filter="url(#bl2)">
<path d="M175.2,462.5 C174.8,457 174.5,452 176.5,449 C178.5,446.5 182,445.6 189,445.3 C196,445 203,444 206.5,444.2 C210,444.5 211.2,447 210.6,449.8 C210,452.5 207.5,453.6 203,453.6 C198,453.6 192,452.8 187,453.2 C184,453.6 182.5,455.5 181.8,458 C181.3,460 181.2,462 181.5,463.5 C183,464.5 184.5,465 185.5,464.8 C187.5,463.5 190.5,463 192,464.3 C193.2,465.8 192,468.5 190,469.8 C188.5,470.8 186.5,471 185.3,471.5 C185,475 182.5,477.5 178.5,477.5 C174,477.5 171.5,474 171.7,470 C172,466.5 173.5,464 175.2,462.5 Z" fill="#111"/>
<path d="M177.5,450.5 C183,448.6 195,448.3 206,448.3" stroke="#bbb" stroke-width="0.8" fill="none"/>
<ellipse cx="203.8" cy="448.6" rx="1.7" ry="0.9" fill="#eee"/>
<path d="M176.8,455 C177.5,458 178.5,460.5 180,462 C179.5,459 179.3,457 178.5,455 Z" fill="#bbb"/>
<ellipse cx="188.6" cy="467.2" rx="2.1" ry="1.1" fill="#e8e8e8" transform="rotate(-35 188.6 467.2)"/>
<ellipse cx="177.5" cy="471" rx="0.9" ry="0.9" fill="#ddd"/>
</g>
<g filter="url(#bl2)">
<path d="M270.3,383.1 C272.5,383.4 274.5,384.5 275.4,386.5 C276.6,389.5 276.4,393.5 275.5,397 C274.8,400.5 273.5,403.5 271.5,405.8 C269.5,407.5 266.5,408.2 263,407.6 C260.5,407.2 258.4,405.8 258,403.5 C257.8,401 259.3,399 261,396.8 C262.7,394.5 264.3,392 265.3,389.5 C266.2,386.8 267,384.8 268.4,383.6 C269,383.2 269.6,383.1 270.3,383.1 Z" fill="#111"/>
<path d="M268.6,384.5 C271.5,384 274,386 274.4,389 C274.6,391 273.6,392.5 272.5,393.2 C270.5,392.5 268.5,391.5 266.5,391 C266.8,388.5 267.4,386 268.6,384.5 Z" fill="#555"/>
<path d="M265.2,403.3 C267,402 268.8,400.5 269.8,398.6 C269.9,400.5 268.5,402.5 265.2,403.3 Z" fill="#fff"/>
<ellipse cx="269.7" cy="394.6" rx="0.7" ry="1.1" fill="#ddd"/>
<ellipse cx="270.5" cy="387.5" rx="1.3" ry="1.0" fill="#888"/>
</g>
<g filter="url(#bl2)"><ellipse cx="263.3" cy="475" rx="9.1" ry="5.5" fill="#111"/><ellipse cx="263" cy="474.6" rx="2" ry="0.9" fill="#ddd"/></g>
<rect x="163" y="364.6" width="51" height="51" fill="none" stroke="#111" stroke-width="1.2"/>
<text x="160" y="372.9" font-size="5.4" text-anchor="end" fill="#333" stroke="#333" stroke-width="0.12" >10<tspan dy="-2.16" font-size="3.13">5</tspan></text>
<text x="160" y="383.9" font-size="5.4" text-anchor="end" fill="#333" stroke="#333" stroke-width="0.12" >10<tspan dy="-2.16" font-size="3.13">4</tspan></text>
<text x="160" y="397.7" font-size="5.4" text-anchor="end" fill="#333" stroke="#333" stroke-width="0.12" >10<tspan dy="-2.16" font-size="3.13">3</tspan></text>
<text x="160" y="406" font-size="5.4" text-anchor="end" fill="#333" stroke="#333" stroke-width="0.12" >0</text>
<text x="160" y="415.5" font-size="5.4" text-anchor="end" fill="#333" stroke="#333" stroke-width="0.12" >-10<tspan dy="-2.16" font-size="3.13">3</tspan></text>
<text x="164.2" y="424.8" font-size="5.4" text-anchor="middle" fill="#333" stroke="#333" stroke-width="0.12" >-10<tspan dy="-2.16" font-size="3.13">3</tspan></text>
<text x="174.6" y="424.8" font-size="5.4" text-anchor="middle" fill="#333" stroke="#333" stroke-width="0.12" >0</text>
<text x="182.4" y="424.8" font-size="5.4" text-anchor="middle" fill="#333" stroke="#333" stroke-width="0.12" >10<tspan dy="-2.16" font-size="3.13">3</tspan></text>
<text x="198" y="424.8" font-size="5.4" text-anchor="middle" fill="#333" stroke="#333" stroke-width="0.12" >10<tspan dy="-2.16" font-size="3.13">4</tspan></text>
<text x="209" y="424.8" font-size="5.4" text-anchor="middle" fill="#333" stroke="#333" stroke-width="0.12" >10<tspan dy="-2.16" font-size="3.13">5</tspan></text>
<rect x="249.6" y="364.6" width="51" height="51" fill="none" stroke="#111" stroke-width="1.2"/>
<text x="246.6" y="372.9" font-size="5.4" text-anchor="end" fill="#333" stroke="#333" stroke-width="0.12" >10<tspan dy="-2.16" font-size="3.13">5</tspan></text>
<text x="246.6" y="383.9" font-size="5.4" text-anchor="end" fill="#333" stroke="#333" stroke-width="0.12" >10<tspan dy="-2.16" font-size="3.13">4</tspan></text>
<text x="246.6" y="397.7" font-size="5.4" text-anchor="end" fill="#333" stroke="#333" stroke-width="0.12" >10<tspan dy="-2.16" font-size="3.13">3</tspan></text>
<text x="246.6" y="406" font-size="5.4" text-anchor="end" fill="#333" stroke="#333" stroke-width="0.12" >0</text>
<text x="246.6" y="415.5" font-size="5.4" text-anchor="end" fill="#333" stroke="#333" stroke-width="0.12" >-10<tspan dy="-2.16" font-size="3.13">3</tspan></text>
<text x="250.8" y="424.8" font-size="5.4" text-anchor="middle" fill="#333" stroke="#333" stroke-width="0.12" >-10<tspan dy="-2.16" font-size="3.13">3</tspan></text>
<text x="261.2" y="424.8" font-size="5.4" text-anchor="middle" fill="#333" stroke="#333" stroke-width="0.12" >0</text>
<text x="269" y="424.8" font-size="5.4" text-anchor="middle" fill="#333" stroke="#333" stroke-width="0.12" >10<tspan dy="-2.16" font-size="3.13">3</tspan></text>
<text x="284.6" y="424.8" font-size="5.4" text-anchor="middle" fill="#333" stroke="#333" stroke-width="0.12" >10<tspan dy="-2.16" font-size="3.13">4</tspan></text>
<text x="295.6" y="424.8" font-size="5.4" text-anchor="middle" fill="#333" stroke="#333" stroke-width="0.12" >10<tspan dy="-2.16" font-size="3.13">5</tspan></text>
<rect x="163" y="435" width="51" height="51" fill="none" stroke="#111" stroke-width="1.2"/>
<text x="160" y="443.3" font-size="5.4" text-anchor="end" fill="#333" stroke="#333" stroke-width="0.12" >10<tspan dy="-2.16" font-size="3.13">5</tspan></text>
<text x="160" y="454.3" font-size="5.4" text-anchor="end" fill="#333" stroke="#333" stroke-width="0.12" >10<tspan dy="-2.16" font-size="3.13">4</tspan></text>
<text x="160" y="468.1" font-size="5.4" text-anchor="end" fill="#333" stroke="#333" stroke-width="0.12" >10<tspan dy="-2.16" font-size="3.13">3</tspan></text>
<text x="160" y="476.4" font-size="5.4" text-anchor="end" fill="#333" stroke="#333" stroke-width="0.12" >0</text>
<text x="160" y="485.9" font-size="5.4" text-anchor="end" fill="#333" stroke="#333" stroke-width="0.12" >-10<tspan dy="-2.16" font-size="3.13">3</tspan></text>
<text x="164.2" y="495.2" font-size="5.4" text-anchor="middle" fill="#333" stroke="#333" stroke-width="0.12" >-10<tspan dy="-2.16" font-size="3.13">3</tspan></text>
<text x="174.6" y="495.2" font-size="5.4" text-anchor="middle" fill="#333" stroke="#333" stroke-width="0.12" >0</text>
<text x="182.4" y="495.2" font-size="5.4" text-anchor="middle" fill="#333" stroke="#333" stroke-width="0.12" >10<tspan dy="-2.16" font-size="3.13">3</tspan></text>
<text x="198" y="495.2" font-size="5.4" text-anchor="middle" fill="#333" stroke="#333" stroke-width="0.12" >10<tspan dy="-2.16" font-size="3.13">4</tspan></text>
<text x="209" y="495.2" font-size="5.4" text-anchor="middle" fill="#333" stroke="#333" stroke-width="0.12" >10<tspan dy="-2.16" font-size="3.13">5</tspan></text>
<rect x="249.6" y="435" width="51" height="51" fill="none" stroke="#111" stroke-width="1.2"/>
<text x="246.6" y="443.3" font-size="5.4" text-anchor="end" fill="#333" stroke="#333" stroke-width="0.12" >10<tspan dy="-2.16" font-size="3.13">5</tspan></text>
<text x="246.6" y="454.3" font-size="5.4" text-anchor="end" fill="#333" stroke="#333" stroke-width="0.12" >10<tspan dy="-2.16" font-size="3.13">4</tspan></text>
<text x="246.6" y="468.1" font-size="5.4" text-anchor="end" fill="#333" stroke="#333" stroke-width="0.12" >10<tspan dy="-2.16" font-size="3.13">3</tspan></text>
<text x="246.6" y="476.4" font-size="5.4" text-anchor="end" fill="#333" stroke="#333" stroke-width="0.12" >0</text>
<text x="246.6" y="485.9" font-size="5.4" text-anchor="end" fill="#333" stroke="#333" stroke-width="0.12" >-10<tspan dy="-2.16" font-size="3.13">3</tspan></text>
<text x="250.8" y="495.2" font-size="5.4" text-anchor="middle" fill="#333" stroke="#333" stroke-width="0.12" >-10<tspan dy="-2.16" font-size="3.13">3</tspan></text>
<text x="261.2" y="495.2" font-size="5.4" text-anchor="middle" fill="#333" stroke="#333" stroke-width="0.12" >0</text>
<text x="269" y="495.2" font-size="5.4" text-anchor="middle" fill="#333" stroke="#333" stroke-width="0.12" >10<tspan dy="-2.16" font-size="3.13">3</tspan></text>
<text x="284.6" y="495.2" font-size="5.4" text-anchor="middle" fill="#333" stroke="#333" stroke-width="0.12" >10<tspan dy="-2.16" font-size="3.13">4</tspan></text>
<text x="295.6" y="495.2" font-size="5.4" text-anchor="middle" fill="#333" stroke="#333" stroke-width="0.12" >10<tspan dy="-2.16" font-size="3.13">5</tspan></text>
<line x1="142.6" y1="470.2" x2="142.6" y2="377.8" stroke="#000" stroke-width="1.2" />
<polygon points="142.6,373.6 145.1,378.6 140.1,378.6" fill="#000"/>
<line x1="230.1" y1="470.2" x2="230.1" y2="377.6" stroke="#000" stroke-width="1.2" />
<polygon points="230.1,373.4 232.6,378.4 227.6,378.4" fill="#000"/>
<line x1="181.8" y1="506" x2="205.3" y2="506" stroke="#000" stroke-width="1.2" />
<polygon points="209.5,506 204.5,508.5 204.5,503.5" fill="#000"/>
<line x1="271.2" y1="506" x2="291.4" y2="506" stroke="#000" stroke-width="1.2" />
<polygon points="295.6,506 290.6,508.5 290.6,503.5" fill="#000"/>
<text x="164.2" y="508.6" font-size="7" fill="#2a2a2a" stroke="#2a2a2a" stroke-width="0.22" textLength="14" lengthAdjust="spacingAndGlyphs" >Sca1</text>
<text x="251.3" y="508.6" font-size="7" fill="#2a2a2a" stroke="#2a2a2a" stroke-width="0.22" textLength="15.6" lengthAdjust="spacingAndGlyphs" >CD34</text>
<text transform="translate(145.8,479.4) rotate(-90)" font-size="7" text-anchor="middle" fill="#2a2a2a" stroke="#2a2a2a" stroke-width="0.2">ckit</text>
<text transform="translate(232.8,478.4) rotate(-90)" font-size="7" text-anchor="middle" fill="#2a2a2a" stroke="#2a2a2a" stroke-width="0.2">flk2</text>
<text x="111.5" y="393.3" font-size="7.6" font-style="italic" fill="#2a2a2a" stroke="#2a2a2a" stroke-width="0.22" textLength="29.8" lengthAdjust="spacingAndGlyphs" >Sin3B<tspan dy="-3.04" font-size="4.18">F/F</tspan></text>
<text x="109.2" y="459.8" font-size="7.6" font-style="italic" fill="#2a2a2a" stroke="#2a2a2a" stroke-width="0.22" textLength="27.5" lengthAdjust="spacingAndGlyphs" >Sin3B<tspan dy="-3.04" font-size="4.18">F/F</tspan></text>
<text x="106.9" y="469" font-size="7.6" font-style="italic" fill="#2a2a2a" stroke="#2a2a2a" stroke-width="0.22" textLength="32.1" lengthAdjust="spacingAndGlyphs" >vav1-cre<tspan dy="-3.04" font-size="4.41">+</tspan></text>
<text x="6.8" y="550.2" font-size="11.7" font-weight="bold" fill="#000" stroke="#000" stroke-width="0.1" >I</text>
<line x1="41" y1="587.4" x2="41" y2="703.15" stroke="#000" stroke-width="1.3" />
<line x1="37.6" y1="702.5" x2="41" y2="702.5" stroke="#000" stroke-width="1.3" />
<text x="35.9" y="705.86" font-size="8.5" text-anchor="end" fill="#1e1e1e" stroke="#1e1e1e" stroke-width="0.22" textLength="4.45" lengthAdjust="spacingAndGlyphs" >0</text>
<line x1="37.6" y1="680" x2="41" y2="680" stroke="#000" stroke-width="1.3" />
<text x="35.9" y="683.36" font-size="8.5" text-anchor="end" fill="#1e1e1e" stroke="#1e1e1e" stroke-width="0.22" textLength="8.9" lengthAdjust="spacingAndGlyphs" >20</text>
<line x1="37.6" y1="657.5" x2="41" y2="657.5" stroke="#000" stroke-width="1.3" />
<text x="35.9" y="660.86" font-size="8.5" text-anchor="end" fill="#1e1e1e" stroke="#1e1e1e" stroke-width="0.22" textLength="8.9" lengthAdjust="spacingAndGlyphs" >40</text>
<line x1="37.6" y1="635" x2="41" y2="635" stroke="#000" stroke-width="1.3" />
<text x="35.9" y="638.36" font-size="8.5" text-anchor="end" fill="#1e1e1e" stroke="#1e1e1e" stroke-width="0.22" textLength="8.9" lengthAdjust="spacingAndGlyphs" >60</text>
<line x1="37.6" y1="612.5" x2="41" y2="612.5" stroke="#000" stroke-width="1.3" />
<text x="35.9" y="615.86" font-size="8.5" text-anchor="end" fill="#1e1e1e" stroke="#1e1e1e" stroke-width="0.22" textLength="8.9" lengthAdjust="spacingAndGlyphs" >80</text>
<line x1="37.6" y1="590" x2="41" y2="590" stroke="#000" stroke-width="1.3" />
<text x="35.9" y="593.36" font-size="8.5" text-anchor="end" fill="#1e1e1e" stroke="#1e1e1e" stroke-width="0.22" textLength="13.35" lengthAdjust="spacingAndGlyphs" >100</text>
<line x1="49.95" y1="615.54" x2="49.95" y2="616.89" stroke="#222" stroke-width="1.05" />
<line x1="47.75" y1="615.54" x2="52.15" y2="615.54" stroke="#222" stroke-width="1.05" />
<rect x="46.25" y="616.89" width="7.4" height="85.61" fill="#a9072e" stroke="#6e0a1e" stroke-width="0.4"/>
<line x1="61.15" y1="665.71" x2="61.15" y2="679.33" stroke="#222" stroke-width="1.05" />
<line x1="58.95" y1="665.71" x2="63.35" y2="665.71" stroke="#222" stroke-width="1.05" />
<rect x="57.45" y="679.33" width="7.4" height="23.17" fill="#2f4a80" stroke="#1c2e52" stroke-width="0.4"/>
<line x1="79.55" y1="640.06" x2="79.55" y2="641.75" stroke="#222" stroke-width="1.05" />
<line x1="77.35" y1="640.06" x2="81.75" y2="640.06" stroke="#222" stroke-width="1.05" />
<rect x="75.85" y="641.75" width="7.4" height="60.75" fill="#a9072e" stroke="#6e0a1e" stroke-width="0.4"/>
<line x1="90.6" y1="679.55" x2="90.6" y2="690.8" stroke="#222" stroke-width="1.05" />
<line x1="88.4" y1="679.55" x2="92.8" y2="679.55" stroke="#222" stroke-width="1.05" />
<rect x="86.9" y="690.8" width="7.4" height="11.7" fill="#2f4a80" stroke="#1c2e52" stroke-width="0.4"/>
<line x1="108.95" y1="620.94" x2="108.95" y2="625.44" stroke="#222" stroke-width="1.05" />
<line x1="106.75" y1="620.94" x2="111.15" y2="620.94" stroke="#222" stroke-width="1.05" />
<rect x="105.25" y="625.44" width="7.4" height="77.06" fill="#a9072e" stroke="#6e0a1e" stroke-width="0.4"/>
<line x1="120.05" y1="666.84" x2="120.05" y2="668.75" stroke="#222" stroke-width="1.05" />
<line x1="117.85" y1="666.84" x2="122.25" y2="666.84" stroke="#222" stroke-width="1.05" />
<rect x="116.35" y="668.75" width="7.4" height="33.75" fill="#2f4a80" stroke="#1c2e52" stroke-width="0.4"/>
<line x1="40.35" y1="702.5" x2="127.5" y2="702.5" stroke="#000" stroke-width="1.3" />
<line x1="55.5" y1="702.5" x2="55.5" y2="705.8" stroke="#000" stroke-width="1.3" />
<line x1="85" y1="702.5" x2="85" y2="705.8" stroke="#000" stroke-width="1.3" />
<line x1="114.5" y1="702.5" x2="114.5" y2="705.8" stroke="#000" stroke-width="1.3" />
<polyline points="49.95,613.7 49.95,598.7 61.15,598.7 61.15,664.6" fill="none" stroke="#111" stroke-width="1.15"/>
<text x="55.55" y="599.2" font-size="10" text-anchor="middle" fill="#111" stroke="#111" stroke-width="0.15" >*</text>
<polyline points="79.55,639 79.55,598.7 90.6,598.7 90.6,678.3" fill="none" stroke="#111" stroke-width="1.15"/>
<text x="85.07" y="599.2" font-size="10" text-anchor="middle" fill="#111" stroke="#111" stroke-width="0.15" >*</text>
<polyline points="108.95,619.4 108.95,598.7 120.05,598.7 120.05,666" fill="none" stroke="#111" stroke-width="1.15"/>
<text x="114.5" y="599.2" font-size="10" text-anchor="middle" fill="#111" stroke="#111" stroke-width="0.15" >*&#8202;*</text>
<line x1="158.4" y1="587.4" x2="158.4" y2="702.95" stroke="#000" stroke-width="1.3" />
<line x1="155" y1="702.3" x2="158.4" y2="702.3" stroke="#000" stroke-width="1.3" />
<text x="153.3" y="705.66" font-size="8.5" text-anchor="end" fill="#1e1e1e" stroke="#1e1e1e" stroke-width="0.22" textLength="4.45" lengthAdjust="spacingAndGlyphs" >0</text>
<line x1="155" y1="679.82" x2="158.4" y2="679.82" stroke="#000" stroke-width="1.3" />
<text x="153.3" y="683.18" font-size="8.5" text-anchor="end" fill="#1e1e1e" stroke="#1e1e1e" stroke-width="0.22" textLength="8.9" lengthAdjust="spacingAndGlyphs" >20</text>
<line x1="155" y1="657.34" x2="158.4" y2="657.34" stroke="#000" stroke-width="1.3" />
<text x="153.3" y="660.7" font-size="8.5" text-anchor="end" fill="#1e1e1e" stroke="#1e1e1e" stroke-width="0.22" textLength="8.9" lengthAdjust="spacingAndGlyphs" >40</text>
<line x1="155" y1="634.86" x2="158.4" y2="634.86" stroke="#000" stroke-width="1.3" />
<text x="153.3" y="638.22" font-size="8.5" text-anchor="end" fill="#1e1e1e" stroke="#1e1e1e" stroke-width="0.22" textLength="8.9" lengthAdjust="spacingAndGlyphs" >60</text>
<line x1="155" y1="612.38" x2="158.4" y2="612.38" stroke="#000" stroke-width="1.3" />
<text x="153.3" y="615.74" font-size="8.5" text-anchor="end" fill="#1e1e1e" stroke="#1e1e1e" stroke-width="0.22" textLength="8.9" lengthAdjust="spacingAndGlyphs" >80</text>
<line x1="155" y1="589.9" x2="158.4" y2="589.9" stroke="#000" stroke-width="1.3" />
<text x="153.3" y="593.26" font-size="8.5" text-anchor="end" fill="#1e1e1e" stroke="#1e1e1e" stroke-width="0.22" textLength="13.35" lengthAdjust="spacingAndGlyphs" >100</text>
<line x1="168.1" y1="618.56" x2="168.1" y2="640.59" stroke="#222" stroke-width="1.05" />
<line x1="165.9" y1="618.56" x2="170.3" y2="618.56" stroke="#222" stroke-width="1.05" />
<rect x="164.4" y="640.59" width="7.4" height="61.71" fill="#a9072e" stroke="#6e0a1e" stroke-width="0.4"/>
<rect x="175.5" y="701.63" width="7.4" height="0.67" fill="#2f4a80" stroke="#1c2e52" stroke-width="0.4"/>
<line x1="197.85" y1="650.37" x2="197.85" y2="663.75" stroke="#222" stroke-width="1.05" />
<line x1="195.65" y1="650.37" x2="200.05" y2="650.37" stroke="#222" stroke-width="1.05" />
<rect x="194.15" y="663.75" width="7.4" height="38.55" fill="#a9072e" stroke="#6e0a1e" stroke-width="0.4"/>
<rect x="205.3" y="701.18" width="7.4" height="1.12" fill="#2f4a80" stroke="#1c2e52" stroke-width="0.4"/>
<line x1="227.3" y1="610.13" x2="227.3" y2="628.57" stroke="#222" stroke-width="1.05" />
<line x1="225.1" y1="610.13" x2="229.5" y2="610.13" stroke="#222" stroke-width="1.05" />
<rect x="223.6" y="628.57" width="7.4" height="73.73" fill="#a9072e" stroke="#6e0a1e" stroke-width="0.4"/>
<rect x="234.8" y="701.51" width="7.4" height="0.79" fill="#2f4a80" stroke="#1c2e52" stroke-width="0.4"/>
<line x1="157.75" y1="702.3" x2="246.5" y2="702.3" stroke="#000" stroke-width="1.3" />
<line x1="173.6" y1="702.3" x2="173.6" y2="705.6" stroke="#000" stroke-width="1.3" />
<line x1="203.4" y1="702.3" x2="203.4" y2="705.6" stroke="#000" stroke-width="1.3" />
<line x1="232.9" y1="702.3" x2="232.9" y2="705.6" stroke="#000" stroke-width="1.3" />
<polyline points="168.5,617 168.5,598.7 178.9,598.7 178.9,700.5" fill="none" stroke="#111" stroke-width="1.15"/>
<text x="173.7" y="599.2" font-size="10" text-anchor="middle" fill="#111" stroke="#111" stroke-width="0.15" >*</text>
<polyline points="197.6,648.5 197.6,598.7 208.5,598.7 208.5,700.5" fill="none" stroke="#111" stroke-width="1.15"/>
<text x="203.05" y="599.2" font-size="10" text-anchor="middle" fill="#111" stroke="#111" stroke-width="0.15" >*&#8202;*</text>
<polyline points="227.4,608.5 227.4,598.7 238.5,598.7 238.5,700.5" fill="none" stroke="#111" stroke-width="1.15"/>
<text x="232.95" y="599.2" font-size="10" text-anchor="middle" fill="#111" stroke="#111" stroke-width="0.15" >*</text>
<text x="55.8" y="715.7" font-size="8.4" text-anchor="middle" fill="#1e1e1e" stroke="#1e1e1e" stroke-width="0.22" textLength="22.2" lengthAdjust="spacingAndGlyphs" >B Cell</text>
<text x="84.5" y="715.7" font-size="8.4" text-anchor="middle" fill="#1e1e1e" stroke="#1e1e1e" stroke-width="0.22" textLength="21" lengthAdjust="spacingAndGlyphs" >T Cell</text>
<text x="114.5" y="715.7" font-size="8.4" text-anchor="middle" fill="#1e1e1e" stroke="#1e1e1e" stroke-width="0.22" textLength="28.4" lengthAdjust="spacingAndGlyphs" >Myeloid</text>
<text x="173.5" y="715.7" font-size="8.4" text-anchor="middle" fill="#1e1e1e" stroke="#1e1e1e" stroke-width="0.22" textLength="22.2" lengthAdjust="spacingAndGlyphs" >B Cell</text>
<text x="203.2" y="715.7" font-size="8.4" text-anchor="middle" fill="#1e1e1e" stroke="#1e1e1e" stroke-width="0.22" textLength="21" lengthAdjust="spacingAndGlyphs" >T Cell</text>
<text x="231" y="715.7" font-size="8.4" text-anchor="middle" fill="#1e1e1e" stroke="#1e1e1e" stroke-width="0.22" textLength="27" lengthAdjust="spacingAndGlyphs" >Myeloid</text>
<text transform="translate(14.6,647.2) rotate(-90)" x="0" y="0" font-size="10.2" text-anchor="middle" fill="#1e1e1e" stroke="#1e1e1e" stroke-width="0.16" textLength="74" lengthAdjust="spacingAndGlyphs">Donor derived (%)</text>
<rect x="165.2" y="545.25" width="7.1" height="5.3" fill="#a9072e"/>
<rect x="165.2" y="556.85" width="7.1" height="5.3" fill="#2f4a80"/>
<text x="176.8" y="550.3" font-size="8.6" font-style="italic" fill="#1e1e1e" stroke="#1e1e1e" stroke-width="0.12" textLength="24" lengthAdjust="spacingAndGlyphs" >Sin3B<tspan dy="-3.44" font-size="4.73">F/F</tspan></text>
<text x="176.8" y="561.9" font-size="8.6" font-style="italic" fill="#1e1e1e" stroke="#1e1e1e" stroke-width="0.12" textLength="63.5" lengthAdjust="spacingAndGlyphs" >Sin3B<tspan dy="-3.44" font-size="4.73">F/F</tspan><tspan dy="3.44" font-size="8.6"> vav1-cre</tspan><tspan dy="-3.44" font-size="5.16">+</tspan></text>
<text x="263.2" y="550.4" font-size="11.7" font-weight="bold" fill="#000" stroke="#000" stroke-width="0.1" >J</text>
<line x1="297" y1="564.2" x2="297" y2="701.85" stroke="#000" stroke-width="1.3" />
<line x1="293.6" y1="701.2" x2="297" y2="701.2" stroke="#000" stroke-width="1.3" />
<text x="292.1" y="704.56" font-size="8.5" text-anchor="end" fill="#1e1e1e" stroke="#1e1e1e" stroke-width="0.22" textLength="4.45" lengthAdjust="spacingAndGlyphs" >0</text>
<line x1="293.6" y1="674.3" x2="297" y2="674.3" stroke="#000" stroke-width="1.3" />
<text x="292.1" y="677.66" font-size="8.5" text-anchor="end" fill="#1e1e1e" stroke="#1e1e1e" stroke-width="0.22" textLength="8.9" lengthAdjust="spacingAndGlyphs" >20</text>
<line x1="293.6" y1="647.4" x2="297" y2="647.4" stroke="#000" stroke-width="1.3" />
<text x="292.1" y="650.76" font-size="8.5" text-anchor="end" fill="#1e1e1e" stroke="#1e1e1e" stroke-width="0.22" textLength="8.9" lengthAdjust="spacingAndGlyphs" >40</text>
<line x1="293.6" y1="620.5" x2="297" y2="620.5" stroke="#000" stroke-width="1.3" />
<text x="292.1" y="623.86" font-size="8.5" text-anchor="end" fill="#1e1e1e" stroke="#1e1e1e" stroke-width="0.22" textLength="8.9" lengthAdjust="spacingAndGlyphs" >60</text>
<line x1="293.6" y1="593.6" x2="297" y2="593.6" stroke="#000" stroke-width="1.3" />
<text x="292.1" y="596.96" font-size="8.5" text-anchor="end" fill="#1e1e1e" stroke="#1e1e1e" stroke-width="0.22" textLength="8.9" lengthAdjust="spacingAndGlyphs" >80</text>
<line x1="293.6" y1="566.7" x2="297" y2="566.7" stroke="#000" stroke-width="1.3" />
<text x="292.1" y="570.06" font-size="8.5" text-anchor="end" fill="#1e1e1e" stroke="#1e1e1e" stroke-width="0.22" textLength="13.35" lengthAdjust="spacingAndGlyphs" >100</text>
<line x1="308.4" y1="598.04" x2="308.4" y2="626.96" stroke="#222" stroke-width="1.05" />
<line x1="306.1" y1="598.04" x2="310.7" y2="598.04" stroke="#222" stroke-width="1.05" />
<rect x="304.2" y="626.96" width="8.4" height="74.24" fill="#a9072e" stroke="#6e0a1e" stroke-width="0.4"/>
<line x1="322.7" y1="598.44" x2="322.7" y2="626.55" stroke="#222" stroke-width="1.05" />
<line x1="320.4" y1="598.44" x2="325" y2="598.44" stroke="#222" stroke-width="1.05" />
<rect x="318.5" y="626.55" width="8.4" height="74.65" fill="#a9072e" stroke="#6e0a1e" stroke-width="0.4"/>
<line x1="337.1" y1="598.44" x2="337.1" y2="633.82" stroke="#222" stroke-width="1.05" />
<line x1="334.8" y1="598.44" x2="339.4" y2="598.44" stroke="#222" stroke-width="1.05" />
<rect x="332.9" y="633.82" width="8.4" height="67.38" fill="#a9072e" stroke="#6e0a1e" stroke-width="0.4"/>
<line x1="351.2" y1="595.62" x2="351.2" y2="628.17" stroke="#222" stroke-width="1.05" />
<line x1="348.9" y1="595.62" x2="353.5" y2="595.62" stroke="#222" stroke-width="1.05" />
<rect x="347" y="628.17" width="8.4" height="73.03" fill="#a9072e" stroke="#6e0a1e" stroke-width="0.4"/>
<line x1="365.6" y1="598.85" x2="365.6" y2="628.84" stroke="#222" stroke-width="1.05" />
<line x1="363.3" y1="598.85" x2="367.9" y2="598.85" stroke="#222" stroke-width="1.05" />
<rect x="361.4" y="628.84" width="8.4" height="72.36" fill="#a9072e" stroke="#6e0a1e" stroke-width="0.4"/>
<line x1="380" y1="599.25" x2="380" y2="629.92" stroke="#222" stroke-width="1.05" />
<line x1="377.7" y1="599.25" x2="382.3" y2="599.25" stroke="#222" stroke-width="1.05" />
<rect x="375.8" y="629.92" width="8.4" height="71.28" fill="#a9072e" stroke="#6e0a1e" stroke-width="0.4"/>
<line x1="400.9" y1="603.28" x2="400.9" y2="613.78" stroke="#222" stroke-width="1.05" />
<line x1="398.6" y1="603.28" x2="403.2" y2="603.28" stroke="#222" stroke-width="1.05" />
<rect x="396.7" y="613.78" width="8.4" height="87.42" fill="#2f4a80" stroke="#1c2e52" stroke-width="0.4"/>
<line x1="415.5" y1="653.45" x2="415.5" y2="666.23" stroke="#222" stroke-width="1.05" />
<line x1="413.2" y1="653.45" x2="417.8" y2="653.45" stroke="#222" stroke-width="1.05" />
<rect x="411.3" y="666.23" width="8.4" height="34.97" fill="#2f4a80" stroke="#1c2e52" stroke-width="0.4"/>
<line x1="429.8" y1="672.42" x2="429.8" y2="684.66" stroke="#222" stroke-width="1.05" />
<line x1="427.5" y1="672.42" x2="432.1" y2="672.42" stroke="#222" stroke-width="1.05" />
<rect x="425.6" y="684.66" width="8.4" height="16.54" fill="#2f4a80" stroke="#1c2e52" stroke-width="0.4"/>
<rect x="440.1" y="699.86" width="8.4" height="1.35" fill="#2f4a80" stroke="#1c2e52" stroke-width="0.4"/>
<rect x="454.4" y="700.8" width="8.4" height="0.4" fill="#2f4a80" stroke="#1c2e52" stroke-width="0.4"/>
<rect x="468.8" y="700.53" width="8.4" height="0.67" fill="#2f4a80" stroke="#1c2e52" stroke-width="0.4"/>
<line x1="296.35" y1="701.2" x2="483.1" y2="701.2" stroke="#000" stroke-width="1.3" />
<line x1="308.4" y1="701.2" x2="308.4" y2="704.5" stroke="#000" stroke-width="1.3" />
<line x1="322.7" y1="701.2" x2="322.7" y2="704.5" stroke="#000" stroke-width="1.3" />
<line x1="337.1" y1="701.2" x2="337.1" y2="704.5" stroke="#000" stroke-width="1.3" />
<line x1="351.2" y1="701.2" x2="351.2" y2="704.5" stroke="#000" stroke-width="1.3" />
<line x1="365.6" y1="701.2" x2="365.6" y2="704.5" stroke="#000" stroke-width="1.3" />
<line x1="380" y1="701.2" x2="380" y2="704.5" stroke="#000" stroke-width="1.3" />
<line x1="400.9" y1="701.2" x2="400.9" y2="704.5" stroke="#000" stroke-width="1.3" />
<line x1="415.5" y1="701.2" x2="415.5" y2="704.5" stroke="#000" stroke-width="1.3" />
<line x1="429.8" y1="701.2" x2="429.8" y2="704.5" stroke="#000" stroke-width="1.3" />
<line x1="444.3" y1="701.2" x2="444.3" y2="704.5" stroke="#000" stroke-width="1.3" />
<line x1="458.6" y1="701.2" x2="458.6" y2="704.5" stroke="#000" stroke-width="1.3" />
<line x1="473" y1="701.2" x2="473" y2="704.5" stroke="#000" stroke-width="1.3" />
<text transform="translate(270.6,632.4) rotate(-90)" x="0" y="0" font-size="10.2" text-anchor="middle" fill="#1e1e1e" stroke="#1e1e1e" stroke-width="0.16" textLength="72.5" lengthAdjust="spacingAndGlyphs">Donor derived (%)</text>
<rect x="400" y="544.75" width="7.7" height="6.1" fill="#a9072e"/>
<rect x="400" y="556.25" width="7.7" height="6.1" fill="#2f4a80"/>
<text x="411.2" y="550.2" font-size="8.6" font-style="italic" fill="#1e1e1e" stroke="#1e1e1e" stroke-width="0.12" textLength="25" lengthAdjust="spacingAndGlyphs" >Sin3B<tspan dy="-3.44" font-size="4.73">F/F</tspan></text>
<text x="411.2" y="561.7" font-size="8.6" font-style="italic" fill="#1e1e1e" stroke="#1e1e1e" stroke-width="0.12" textLength="64.5" lengthAdjust="spacingAndGlyphs" >Sin3B<tspan dy="-3.44" font-size="4.73">F/F</tspan><tspan dy="3.44" font-size="8.6"> vav1-cre</tspan><tspan dy="-3.44" font-size="5.16">+</tspan></text>
<text transform="translate(311.4,711.9) rotate(-45)" x="0" y="0" font-size="8.7" text-anchor="end" fill="#1e1e1e" stroke="#1e1e1e" stroke-width="0.22">LT-HSC</text>
<text transform="translate(325.7,711.9) rotate(-45)" x="0" y="0" font-size="8.7" text-anchor="end" fill="#1e1e1e" stroke="#1e1e1e" stroke-width="0.22">ST-HSC</text>
<text transform="translate(340.1,711.9) rotate(-45)" x="0" y="0" font-size="8.7" text-anchor="end" fill="#1e1e1e" stroke="#1e1e1e" stroke-width="0.22">MPP</text>
<text transform="translate(354.2,711.9) rotate(-45)" x="0" y="0" font-size="8.7" text-anchor="end" fill="#1e1e1e" stroke="#1e1e1e" stroke-width="0.22">MP</text>
<text transform="translate(368.6,711.9) rotate(-45)" x="0" y="0" font-size="8.7" text-anchor="end" fill="#1e1e1e" stroke="#1e1e1e" stroke-width="0.22">LP</text>
<text transform="translate(383,711.9) rotate(-45)" x="0" y="0" font-size="8.7" text-anchor="end" fill="#1e1e1e" stroke="#1e1e1e" stroke-width="0.22">BM</text>
<text transform="translate(403.9,711.9) rotate(-45)" x="0" y="0" font-size="8.7" text-anchor="end" fill="#1e1e1e" stroke="#1e1e1e" stroke-width="0.22">LT-HSC</text>
<text transform="translate(418.5,711.9) rotate(-45)" x="0" y="0" font-size="8.7" text-anchor="end" fill="#1e1e1e" stroke="#1e1e1e" stroke-width="0.22">ST-HSC</text>
<text transform="translate(432.8,711.9) rotate(-45)" x="0" y="0" font-size="8.7" text-anchor="end" fill="#1e1e1e" stroke="#1e1e1e" stroke-width="0.22">MPP</text>
<text transform="translate(447.3,711.9) rotate(-45)" x="0" y="0" font-size="8.7" text-anchor="end" fill="#1e1e1e" stroke="#1e1e1e" stroke-width="0.22">MP</text>
<text transform="translate(461.6,711.9) rotate(-45)" x="0" y="0" font-size="8.7" text-anchor="end" fill="#1e1e1e" stroke="#1e1e1e" stroke-width="0.22">LP</text>
<text transform="translate(476,711.9) rotate(-45)" x="0" y="0" font-size="8.7" text-anchor="end" fill="#1e1e1e" stroke="#1e1e1e" stroke-width="0.22">BM</text>
<rect x="0" y="0" width="520" height="1.1" fill="#000"/>
<rect x="0" y="0" width="1.1" height="741" fill="#000"/>
<rect x="518.2" y="0" width="1.8" height="741" fill="#000"/>
<rect x="0" y="739.2" width="520" height="1.8" fill="#000"/>
</svg>
</body></html>
